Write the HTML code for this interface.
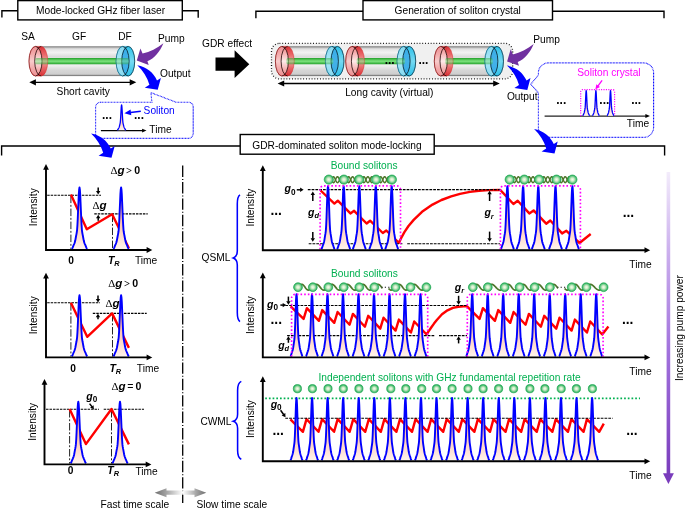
<!DOCTYPE html>
<html lang="en"><head><meta charset="utf-8"><title>GDR-dominated soliton mode-locking</title>
<style>html,body{margin:0;padding:0;background:#fff}svg{display:block}</style></head>
<body>
<svg width="685" height="508" viewBox="0 0 685 508" font-family="'Liberation Sans', Arial, sans-serif" font-size="10.2" fill="#000">
<defs>
<linearGradient id="pg" x1="0" y1="0" x2="0" y2="1">
 <stop offset="0" stop-color="#ffa07a"/>
 <stop offset="0.55" stop-color="#ffc4aa"/>
 <stop offset="0.8" stop-color="#ffdccd"/>
 <stop offset="1" stop-color="#fff3ed"/>
</linearGradient>
<linearGradient id="tube" x1="0" y1="0" x2="0" y2="1">
 <stop offset="0" stop-color="#b9b9b9"/>
 <stop offset="0.10" stop-color="#e6e6e6"/>
 <stop offset="0.2" stop-color="#f2f2f2"/>
 <stop offset="0.34" stop-color="#dcdcdc"/>
 <stop offset="0.5" stop-color="#e8e8e8"/>
 <stop offset="0.66" stop-color="#eeeeee"/>
 <stop offset="0.82" stop-color="#d6d6d6"/>
 <stop offset="0.93" stop-color="#cfcfcf"/>
 <stop offset="1" stop-color="#a9a9a9"/>
</linearGradient>
<linearGradient id="rod" x1="0" y1="0" x2="0" y2="1">
 <stop offset="0" stop-color="#22a12a"/>
 <stop offset="0.5" stop-color="#7fe47f"/>
 <stop offset="1" stop-color="#22a12a"/>
</linearGradient>
<linearGradient id="redv" x1="0" y1="0" x2="0" y2="1">
 <stop offset="0" stop-color="#d9262b"/>
 <stop offset="0.28" stop-color="#ea5f61"/>
 <stop offset="0.5" stop-color="#f29a9a"/>
 <stop offset="0.72" stop-color="#ea5f61"/>
 <stop offset="1" stop-color="#d9262b"/>
</linearGradient>
<linearGradient id="redh" x1="0" y1="0" x2="1" y2="0">
 <stop offset="0" stop-color="#ef8d8d"/>
 <stop offset="0.5" stop-color="#fbdada"/>
 <stop offset="1" stop-color="#f4a6a6"/>
</linearGradient>
<linearGradient id="redlens" x1="0" y1="0" x2="0" y2="1">
 <stop offset="0" stop-color="#f29c9c"/>
 <stop offset="0.5" stop-color="#fff6f6"/>
 <stop offset="1" stop-color="#f29c9c"/>
</linearGradient>
<linearGradient id="bluv" x1="0" y1="0" x2="0" y2="1">
 <stop offset="0" stop-color="#22bde8"/>
 <stop offset="0.5" stop-color="#6fd8f2"/>
 <stop offset="1" stop-color="#22bde8"/>
</linearGradient>
<linearGradient id="bluf" x1="0" y1="0" x2="1" y2="0">
 <stop offset="0" stop-color="#35b4e8"/>
 <stop offset="1" stop-color="#23a3e0"/>
</linearGradient>
<radialGradient id="ball" cx="0.5" cy="0.5" r="0.5">
 <stop offset="0" stop-color="#f4faef"/>
 <stop offset="0.35" stop-color="#d3edc9"/>
 <stop offset="0.8" stop-color="#55c27a"/>
 <stop offset="1" stop-color="#21ad55"/>
</radialGradient>
<linearGradient id="pump" gradientUnits="userSpaceOnUse" x1="0" y1="172" x2="0" y2="476">
 <stop offset="0" stop-color="#f3ecfb"/>
 <stop offset="0.25" stop-color="#cdb2ee"/>
 <stop offset="0.6" stop-color="#a070dc"/>
 <stop offset="1" stop-color="#7a3cbc"/>
</linearGradient>
<linearGradient id="gl" gradientUnits="userSpaceOnUse" x1="154.7" y1="0" x2="182.7" y2="0">
 <stop offset="0" stop-color="#6e6e6e"/>
 <stop offset="0.45" stop-color="#a8a8a8"/>
 <stop offset="1" stop-color="#ffffff"/>
</linearGradient>
<linearGradient id="gr" gradientUnits="userSpaceOnUse" x1="182.7" y1="0" x2="206.3" y2="0">
 <stop offset="0" stop-color="#ffffff"/>
 <stop offset="0.55" stop-color="#a8a8a8"/>
 <stop offset="1" stop-color="#6e6e6e"/>
</linearGradient>
</defs>
<rect width="685" height="508" fill="#fff"/>
<g fill="none" stroke="#000" stroke-width="1.4">
<path d="M1.9 17.6 V10.8 H17.8 M182.3 10.8 H198.2 V17.8"/>
<rect x="17.8" y="0.6" width="164.5" height="19.3" fill="#fff"/>
<path d="M255.9 18.2 V11.3 H363 M552.5 11.3 H664 V18.2"/>
<rect x="363" y="0.6" width="189.5" height="19.3" fill="#fff"/>
<path d="M1.6 155.4 V146 H240.2 M434.2 146 H664.6 V155.6"/>
<rect x="240.2" y="134.5" width="194" height="19.7" fill="#fff"/>
</g>
<text x="36" y="14.4">Mode-locked GHz fiber laser</text>
<text x="394.6" y="13.9">Generation of soliton crystal</text>
<text x="252.3" y="148.8">GDR-dominated soliton mode-locking</text>
<path d="M41.2 46.8 L122.6 46.8 A6.5 14.4 0 0 1 122.6 75.6 L41.2 75.6 Z" fill="url(#tube)" stroke="#555" stroke-width="0.7"/>
<rect x="35.2" y="58.05" width="93.6" height="6.3" rx="1.6" fill="url(#rod)"/>
<path d="M35.5 46.4 A6.5 14.8 0 0 0 35.5 76 L41.2 76 A6.5 14.8 0 0 0 41.2 46.4 Z" fill="url(#redv)" fill-opacity="0.93" stroke="#d92b2b" stroke-width="0.5"/>
<path d="M38.35 47.9 A6.5 14.8 0 1 0 38.35 74.5 A6.5 14.8 0 0 1 38.35 47.9 Z" fill="#fff" fill-opacity="0.45"/>
<path d="M38.35 47.9 A6.5 14.8 0 0 1 38.35 74.5 A6.5 14.8 0 0 1 38.35 47.9 Z" fill="url(#redlens)" fill-opacity="0.85"/>
<path d="M35.5 46.4 A6.5 14.8 0 0 0 35.5 76" fill="none" stroke="#7a1010" stroke-width="0.7"/>
<path d="M35.5 46.4 A6.5 14.8 0 0 1 35.5 76" fill="none" stroke="#140000" stroke-width="0.75"/>
<path d="M41.2 46.4 A6.5 14.8 0 0 0 41.2 76" fill="none" stroke="#140000" stroke-width="0.75"/>
<path d="M122.6 46.4 A6.5 14.8 0 0 0 122.6 76 L128.2 76 A6.5 14.8 0 0 0 128.2 46.4 Z" fill="url(#bluv)" fill-opacity="0.95" stroke="#18a7d0" stroke-width="0.5"/>
<path d="M125.4 47.84 A6.5 14.8 0 1 0 125.4 74.56 A6.5 14.8 0 0 1 125.4 47.84 Z" fill="#fff" fill-opacity="0.42"/>
<path d="M125.4 47.84 A6.5 14.8 0 0 1 125.4 74.56 A6.5 14.8 0 0 1 125.4 47.84 Z" fill="#38a8e6" fill-opacity="0.8"/>
<path d="M122.6 46.4 A6.5 14.8 0 0 0 122.6 76" fill="none" stroke="#0d5c78" stroke-width="0.7"/>
<path d="M122.6 46.4 A6.5 14.8 0 0 1 122.6 76" fill="none" stroke="#04141c" stroke-width="0.75"/>
<path d="M128.2 46.4 A6.5 14.8 0 0 0 128.2 76" fill="none" stroke="#04141c" stroke-width="0.75"/>
<path d="M128.2 46.4 A6.5 14.8 0 0 1 128.2 76" fill="none" stroke="#0a2a38" stroke-width="0.7"/>
<rect x="35.2" y="58.05" width="12.5" height="6.3" rx="1.6" fill="url(#rod)" opacity="0.5"/>
<rect x="116.1" y="58.05" width="12.7" height="6.3" rx="1.6" fill="url(#rod)" opacity="0.45"/>
<text x="21.2" y="40">SA</text>
<text x="72" y="40">GF</text>
<text x="118.2" y="40">DF</text>
<path d="M35 82.3 H130.5" stroke="#000" stroke-width="1.3"/>
<path d="M29.3 82.3 l6.6 -3.1 v6.2 Z M136.3 82.3 l-6.6 -3.1 v6.2 Z" fill="#000"/>
<text x="56.6" y="94.7">Short cavity</text>
<path d="M163.4 43.3 C157 48.5 150 51.8 142.6 53.6 L140.4 48.4 L136.8 60.6 L148.7 64.9 L147.4 61.3 C154.5 58.6 160 51.5 163.4 43.3 Z" fill="#7030A0"/>
<path d="M137.3 65.3 C146.5 67.2 153.5 72.5 157 80.4 L160.9 77.9 L157.7 89.7 L144.8 87.7 L149.4 84.7 C147.2 77.5 143 70.6 137.3 65.3 Z" fill="#0000FF"/>
<text x="158" y="41.6">Pump</text>
<text x="160" y="76.5">Output</text>
<text x="202" y="47.2">GDR effect</text>
<path d="M215.5 57.6 H234.6 V50.2 L249.3 64.2 L234.6 78 V70.8 H215.5 Z" fill="#000"/>
<path d="M100.6 102.2 H151.9 L150.9 92.6 L176 102.2 H188.6 A4.6 4.6 0 0 1 193.2 106.8 V133.4 A5 5 0 0 1 188.2 138.4 H100.6 A5 5 0 0 1 95.6 133.4 V107.2 A5 5 0 0 1 100.6 102.2 Z" fill="#fff" stroke="#0000FF" stroke-width="1.1" stroke-dasharray="0.8 0.7"/>
<path d="M100.9 130.6 H143" stroke="#000" stroke-width="1.2"/>
<path d="M146.5 130.6 l-4.4 -1.9 v3.8 Z" fill="#000"/>
<path d="M117.4 130.2 L117.61 130.02 L117.83 129.72 L118.04 129.31 L118.25 128.89 L118.47 128.52 L118.68 128.16 L118.89 127.77 L119.11 127.29 L119.32 126.65 L119.53 125.78 L119.75 124.87 L119.96 124.06 L120.17 123.12 L120.3 122.31 L120.48 120.28 L120.67 117.44 L120.86 114.08 L121.04 110.89 L121.23 107.67 L121.41 105.71 L121.6 104.92 L121.79 105.71 L121.97 107.67 L122.16 110.89 L122.34 114.08 L122.53 117.44 L122.72 120.28 L122.9 122.31 L123.03 123.12 L123.24 124.06 L123.45 124.87 L123.67 125.78 L123.88 126.65 L124.09 127.29 L124.31 127.77 L124.52 128.16 L124.73 128.52 L124.95 128.89 L125.16 129.31 L125.37 129.72 L125.59 130.02 L125.8 130.2 Z" fill="url(#pg)" stroke="none"/>
<path d="M117.4 130.2 L117.61 130.02 L117.83 129.72 L118.04 129.31 L118.25 128.89 L118.47 128.52 L118.68 128.16 L118.89 127.77 L119.11 127.29 L119.32 126.65 L119.53 125.78 L119.75 124.87 L119.96 124.06 L120.17 123.12 L120.3 122.31 L120.48 120.28 L120.67 117.44 L120.86 114.08 L121.04 110.89 L121.23 107.67 L121.41 105.71 L121.6 104.92 L121.79 105.71 L121.97 107.67 L122.16 110.89 L122.34 114.08 L122.53 117.44 L122.72 120.28 L122.9 122.31 L123.03 123.12 L123.24 124.06 L123.45 124.87 L123.67 125.78 L123.88 126.65 L124.09 127.29 L124.31 127.77 L124.52 128.16 L124.73 128.52 L124.95 128.89 L125.16 129.31 L125.37 129.72 L125.59 130.02 L125.8 130.2" fill="none" stroke="#0000FF" stroke-width="1.3" stroke-linejoin="round"/>
<text x="149.3" y="133.4">Time</text>
<text x="143.6" y="113.7" fill="#0000FF">Soliton</text>
<path d="M140.8 111.2 L130.45 112.53" stroke="#0000FF" stroke-width="1.6" fill="none"/>
<path d="M124.4 113.3 L130.58 109.59 L131.31 115.34 Z" fill="#0000FF"/>
<text x="102.05" y="119.41" font-size="11.9" font-weight="bold">...</text>
<text x="134.05" y="119.41" font-size="11.9" font-weight="bold">...</text>
<path d="M137.3 65.3 C146.5 67.2 153.5 72.5 157 80.4 L160.9 77.9 L157.7 89.7 L144.8 87.7 L149.4 84.7 C147.2 77.5 143 70.6 137.3 65.3 Z" fill="#0000FF" transform="translate(-46.2 68.1)"/>
<rect x="271.5" y="43.3" width="241.2" height="35.6" rx="8" ry="8" fill="#f0f0f0" stroke="#000" stroke-width="1.3" stroke-dasharray="0.85 1.95"/>
<path d="M287.6 46.8 L331.9 46.8 A6.5 14.4 0 0 1 331.9 75.6 L287.6 75.6 Z" fill="url(#tube)" stroke="#555" stroke-width="0.7"/>
<rect x="286.4" y="58.05" width="46.9" height="6.3" rx="1.6" fill="url(#rod)"/>
<path d="M281.9 46.4 A6.5 14.8 0 0 0 281.9 76 L287.6 76 A6.5 14.8 0 0 0 287.6 46.4 Z" fill="url(#redv)" fill-opacity="0.93" stroke="#d92b2b" stroke-width="0.5"/>
<path d="M284.75 47.9 A6.5 14.8 0 1 0 284.75 74.5 A6.5 14.8 0 0 1 284.75 47.9 Z" fill="#fff" fill-opacity="0.45"/>
<path d="M284.75 47.9 A6.5 14.8 0 0 1 284.75 74.5 A6.5 14.8 0 0 1 284.75 47.9 Z" fill="url(#redlens)" fill-opacity="0.85"/>
<path d="M281.9 46.4 A6.5 14.8 0 0 0 281.9 76" fill="none" stroke="#7a1010" stroke-width="0.7"/>
<path d="M281.9 46.4 A6.5 14.8 0 0 1 281.9 76" fill="none" stroke="#140000" stroke-width="0.75"/>
<path d="M287.6 46.4 A6.5 14.8 0 0 0 287.6 76" fill="none" stroke="#140000" stroke-width="0.75"/>
<path d="M331.9 46.4 A6.5 14.8 0 0 0 331.9 76 L337.5 76 A6.5 14.8 0 0 0 337.5 46.4 Z" fill="url(#bluv)" fill-opacity="0.95" stroke="#18a7d0" stroke-width="0.5"/>
<path d="M334.7 47.84 A6.5 14.8 0 1 0 334.7 74.56 A6.5 14.8 0 0 1 334.7 47.84 Z" fill="#fff" fill-opacity="0.42"/>
<path d="M334.7 47.84 A6.5 14.8 0 0 1 334.7 74.56 A6.5 14.8 0 0 1 334.7 47.84 Z" fill="#38a8e6" fill-opacity="0.8"/>
<path d="M331.9 46.4 A6.5 14.8 0 0 0 331.9 76" fill="none" stroke="#0d5c78" stroke-width="0.7"/>
<path d="M331.9 46.4 A6.5 14.8 0 0 1 331.9 76" fill="none" stroke="#04141c" stroke-width="0.75"/>
<path d="M337.5 46.4 A6.5 14.8 0 0 0 337.5 76" fill="none" stroke="#04141c" stroke-width="0.75"/>
<path d="M337.5 46.4 A6.5 14.8 0 0 1 337.5 76" fill="none" stroke="#0a2a38" stroke-width="0.7"/>
<rect x="286.4" y="58.05" width="7.7" height="6.3" rx="1.6" fill="url(#rod)" opacity="0.5"/>
<rect x="325.4" y="58.05" width="7.9" height="6.3" rx="1.6" fill="url(#rod)" opacity="0.45"/>
<path d="M357.9 46.8 L403.6 46.8 A6.5 14.4 0 0 1 403.6 75.6 L357.9 75.6 Z" fill="url(#tube)" stroke="#555" stroke-width="0.7"/>
<rect x="356.7" y="58.05" width="48.3" height="6.3" rx="1.6" fill="url(#rod)"/>
<path d="M352.2 46.4 A6.5 14.8 0 0 0 352.2 76 L357.9 76 A6.5 14.8 0 0 0 357.9 46.4 Z" fill="url(#redv)" fill-opacity="0.93" stroke="#d92b2b" stroke-width="0.5"/>
<path d="M355.05 47.9 A6.5 14.8 0 1 0 355.05 74.5 A6.5 14.8 0 0 1 355.05 47.9 Z" fill="#fff" fill-opacity="0.45"/>
<path d="M355.05 47.9 A6.5 14.8 0 0 1 355.05 74.5 A6.5 14.8 0 0 1 355.05 47.9 Z" fill="url(#redlens)" fill-opacity="0.85"/>
<path d="M352.2 46.4 A6.5 14.8 0 0 0 352.2 76" fill="none" stroke="#7a1010" stroke-width="0.7"/>
<path d="M352.2 46.4 A6.5 14.8 0 0 1 352.2 76" fill="none" stroke="#140000" stroke-width="0.75"/>
<path d="M357.9 46.4 A6.5 14.8 0 0 0 357.9 76" fill="none" stroke="#140000" stroke-width="0.75"/>
<path d="M403.6 46.4 A6.5 14.8 0 0 0 403.6 76 L409.2 76 A6.5 14.8 0 0 0 409.2 46.4 Z" fill="url(#bluv)" fill-opacity="0.95" stroke="#18a7d0" stroke-width="0.5"/>
<path d="M406.4 47.84 A6.5 14.8 0 1 0 406.4 74.56 A6.5 14.8 0 0 1 406.4 47.84 Z" fill="#fff" fill-opacity="0.42"/>
<path d="M406.4 47.84 A6.5 14.8 0 0 1 406.4 74.56 A6.5 14.8 0 0 1 406.4 47.84 Z" fill="#38a8e6" fill-opacity="0.8"/>
<path d="M403.6 46.4 A6.5 14.8 0 0 0 403.6 76" fill="none" stroke="#0d5c78" stroke-width="0.7"/>
<path d="M403.6 46.4 A6.5 14.8 0 0 1 403.6 76" fill="none" stroke="#04141c" stroke-width="0.75"/>
<path d="M409.2 46.4 A6.5 14.8 0 0 0 409.2 76" fill="none" stroke="#04141c" stroke-width="0.75"/>
<path d="M409.2 46.4 A6.5 14.8 0 0 1 409.2 76" fill="none" stroke="#0a2a38" stroke-width="0.7"/>
<rect x="356.7" y="58.05" width="7.7" height="6.3" rx="1.6" fill="url(#rod)" opacity="0.5"/>
<rect x="397.1" y="58.05" width="7.9" height="6.3" rx="1.6" fill="url(#rod)" opacity="0.45"/>
<path d="M446.5 46.8 L491.4 46.8 A6.5 14.4 0 0 1 491.4 75.6 L446.5 75.6 Z" fill="url(#tube)" stroke="#555" stroke-width="0.7"/>
<rect x="445.3" y="58.05" width="47.5" height="6.3" rx="1.6" fill="url(#rod)"/>
<path d="M440.8 46.4 A6.5 14.8 0 0 0 440.8 76 L446.5 76 A6.5 14.8 0 0 0 446.5 46.4 Z" fill="url(#redv)" fill-opacity="0.93" stroke="#d92b2b" stroke-width="0.5"/>
<path d="M443.65 47.9 A6.5 14.8 0 1 0 443.65 74.5 A6.5 14.8 0 0 1 443.65 47.9 Z" fill="#fff" fill-opacity="0.45"/>
<path d="M443.65 47.9 A6.5 14.8 0 0 1 443.65 74.5 A6.5 14.8 0 0 1 443.65 47.9 Z" fill="url(#redlens)" fill-opacity="0.85"/>
<path d="M440.8 46.4 A6.5 14.8 0 0 0 440.8 76" fill="none" stroke="#7a1010" stroke-width="0.7"/>
<path d="M440.8 46.4 A6.5 14.8 0 0 1 440.8 76" fill="none" stroke="#140000" stroke-width="0.75"/>
<path d="M446.5 46.4 A6.5 14.8 0 0 0 446.5 76" fill="none" stroke="#140000" stroke-width="0.75"/>
<path d="M491.4 46.4 A6.5 14.8 0 0 0 491.4 76 L497 76 A6.5 14.8 0 0 0 497 46.4 Z" fill="url(#bluv)" fill-opacity="0.95" stroke="#18a7d0" stroke-width="0.5"/>
<path d="M494.2 47.84 A6.5 14.8 0 1 0 494.2 74.56 A6.5 14.8 0 0 1 494.2 47.84 Z" fill="#fff" fill-opacity="0.42"/>
<path d="M494.2 47.84 A6.5 14.8 0 0 1 494.2 74.56 A6.5 14.8 0 0 1 494.2 47.84 Z" fill="#38a8e6" fill-opacity="0.8"/>
<path d="M491.4 46.4 A6.5 14.8 0 0 0 491.4 76" fill="none" stroke="#0d5c78" stroke-width="0.7"/>
<path d="M491.4 46.4 A6.5 14.8 0 0 1 491.4 76" fill="none" stroke="#04141c" stroke-width="0.75"/>
<path d="M497 46.4 A6.5 14.8 0 0 0 497 76" fill="none" stroke="#04141c" stroke-width="0.75"/>
<path d="M497 46.4 A6.5 14.8 0 0 1 497 76" fill="none" stroke="#0a2a38" stroke-width="0.7"/>
<rect x="445.3" y="58.05" width="7.7" height="6.3" rx="1.6" fill="url(#rod)" opacity="0.5"/>
<rect x="484.9" y="58.05" width="7.9" height="6.3" rx="1.6" fill="url(#rod)" opacity="0.45"/>
<text x="384.63" y="64.22" font-size="12" font-weight="bold">...</text>
<text x="418.43" y="64.22" font-size="12" font-weight="bold">...</text>
<path d="M283 83.5 H494" stroke="#000" stroke-width="1.3"/>
<path d="M277.6 83.5 l6.6 -3.1 v6.2 Z M499.8 83.5 l-6.6 -3.1 v6.2 Z" fill="#000"/>
<text x="345.2" y="95.6">Long cavity (virtual)</text>
<path d="M163.4 43.3 C157 48.5 150 51.8 142.6 53.6 L140.4 48.4 L136.8 60.6 L148.7 64.9 L147.4 61.3 C154.5 58.6 160 51.5 163.4 43.3 Z" fill="#7030A0" transform="translate(370.3 0.8)"/>
<path d="M137.3 65.3 C146.5 67.2 153.5 72.5 157 80.4 L160.9 77.9 L157.7 89.7 L144.8 87.7 L149.4 84.7 C147.2 77.5 143 70.6 137.3 65.3 Z" fill="#0000FF" transform="translate(369.6 0.2)"/>
<text x="533.2" y="42.7">Pump</text>
<text x="506.9" y="99.7">Output</text>
<path d="M548.4 62.9 H643.6 A10 10 0 0 1 653.6 72.9 V127.4 A10 10 0 0 1 643.6 137.4 H548.4 A10 10 0 0 1 538.4 127.4 V92.7 L530.8 84.3 L538.4 75 V72.9 A10 10 0 0 1 548.4 62.9 Z" fill="#fff" stroke="#0000FF" stroke-width="1.1" stroke-dasharray="0.8 0.7"/>
<path d="M544.6 116.1 H646" stroke="#222" stroke-width="1.25"/>
<path d="M650 116.1 l-4.6 -2 v4 Z" fill="#000"/>
<path d="M582.7 115.8 L582.88 115.62 L583.06 115.32 L583.23 114.91 L583.41 114.49 L583.59 114.12 L583.77 113.76 L583.94 113.37 L584.12 112.89 L584.3 112.25 L584.48 111.38 L584.65 110.47 L584.83 109.66 L585.01 108.72 L585.12 107.91 L585.27 105.88 L585.43 103.04 L585.58 99.68 L585.74 96.49 L585.89 93.27 L586.05 91.31 L586.2 90.52 L586.36 91.31 L586.51 93.27 L586.67 96.49 L586.82 99.68 L586.98 103.04 L587.13 105.88 L587.29 107.91 L587.39 108.72 L587.57 109.66 L587.75 110.47 L587.92 111.38 L588.1 112.25 L588.28 112.89 L588.46 113.37 L588.63 113.76 L588.81 114.12 L588.99 114.49 L589.17 114.91 L589.34 115.32 L589.52 115.62 L589.7 115.8 Z" fill="url(#pg)" stroke="none"/>
<path d="M582.7 115.8 L582.88 115.62 L583.06 115.32 L583.23 114.91 L583.41 114.49 L583.59 114.12 L583.77 113.76 L583.94 113.37 L584.12 112.89 L584.3 112.25 L584.48 111.38 L584.65 110.47 L584.83 109.66 L585.01 108.72 L585.12 107.91 L585.27 105.88 L585.43 103.04 L585.58 99.68 L585.74 96.49 L585.89 93.27 L586.05 91.31 L586.2 90.52 L586.36 91.31 L586.51 93.27 L586.67 96.49 L586.82 99.68 L586.98 103.04 L587.13 105.88 L587.29 107.91 L587.39 108.72 L587.57 109.66 L587.75 110.47 L587.92 111.38 L588.1 112.25 L588.28 112.89 L588.46 113.37 L588.63 113.76 L588.81 114.12 L588.99 114.49 L589.17 114.91 L589.34 115.32 L589.52 115.62 L589.7 115.8" fill="none" stroke="#0000FF" stroke-width="1.3" stroke-linejoin="round"/>
<path d="M592.4 115.8 L592.58 115.62 L592.76 115.32 L592.93 114.91 L593.11 114.49 L593.29 114.12 L593.47 113.76 L593.64 113.37 L593.82 112.89 L594 112.25 L594.18 111.38 L594.35 110.47 L594.53 109.66 L594.71 108.72 L594.81 107.91 L594.97 105.88 L595.12 103.04 L595.28 99.68 L595.43 96.49 L595.59 93.27 L595.75 91.31 L595.9 90.52 L596.05 91.31 L596.21 93.27 L596.37 96.49 L596.52 99.68 L596.67 103.04 L596.83 105.88 L596.99 107.91 L597.09 108.72 L597.27 109.66 L597.45 110.47 L597.62 111.38 L597.8 112.25 L597.98 112.89 L598.16 113.37 L598.33 113.76 L598.51 114.12 L598.69 114.49 L598.87 114.91 L599.04 115.32 L599.22 115.62 L599.4 115.8 Z" fill="url(#pg)" stroke="none"/>
<path d="M592.4 115.8 L592.58 115.62 L592.76 115.32 L592.93 114.91 L593.11 114.49 L593.29 114.12 L593.47 113.76 L593.64 113.37 L593.82 112.89 L594 112.25 L594.18 111.38 L594.35 110.47 L594.53 109.66 L594.71 108.72 L594.81 107.91 L594.97 105.88 L595.12 103.04 L595.28 99.68 L595.43 96.49 L595.59 93.27 L595.75 91.31 L595.9 90.52 L596.05 91.31 L596.21 93.27 L596.37 96.49 L596.52 99.68 L596.67 103.04 L596.83 105.88 L596.99 107.91 L597.09 108.72 L597.27 109.66 L597.45 110.47 L597.62 111.38 L597.8 112.25 L597.98 112.89 L598.16 113.37 L598.33 113.76 L598.51 114.12 L598.69 114.49 L598.87 114.91 L599.04 115.32 L599.22 115.62 L599.4 115.8" fill="none" stroke="#0000FF" stroke-width="1.3" stroke-linejoin="round"/>
<path d="M607 115.8 L607.18 115.62 L607.36 115.32 L607.53 114.91 L607.71 114.49 L607.89 114.12 L608.07 113.76 L608.24 113.37 L608.42 112.89 L608.6 112.25 L608.78 111.38 L608.95 110.47 L609.13 109.66 L609.31 108.72 L609.41 107.91 L609.57 105.88 L609.73 103.04 L609.88 99.68 L610.03 96.49 L610.19 93.27 L610.35 91.31 L610.5 90.52 L610.65 91.31 L610.81 93.27 L610.97 96.49 L611.12 99.68 L611.27 103.04 L611.43 105.88 L611.59 107.91 L611.69 108.72 L611.87 109.66 L612.05 110.47 L612.22 111.38 L612.4 112.25 L612.58 112.89 L612.76 113.37 L612.93 113.76 L613.11 114.12 L613.29 114.49 L613.47 114.91 L613.64 115.32 L613.82 115.62 L614 115.8 Z" fill="url(#pg)" stroke="none"/>
<path d="M607 115.8 L607.18 115.62 L607.36 115.32 L607.53 114.91 L607.71 114.49 L607.89 114.12 L608.07 113.76 L608.24 113.37 L608.42 112.89 L608.6 112.25 L608.78 111.38 L608.95 110.47 L609.13 109.66 L609.31 108.72 L609.41 107.91 L609.57 105.88 L609.73 103.04 L609.88 99.68 L610.03 96.49 L610.19 93.27 L610.35 91.31 L610.5 90.52 L610.65 91.31 L610.81 93.27 L610.97 96.49 L611.12 99.68 L611.27 103.04 L611.43 105.88 L611.59 107.91 L611.69 108.72 L611.87 109.66 L612.05 110.47 L612.22 111.38 L612.4 112.25 L612.58 112.89 L612.76 113.37 L612.93 113.76 L613.11 114.12 L613.29 114.49 L613.47 114.91 L613.64 115.32 L613.82 115.62 L614 115.8" fill="none" stroke="#0000FF" stroke-width="1.3" stroke-linejoin="round"/>
<path d="M580.7 116 V91.6 A2 2 0 0 1 582.7 89.6 H612.6 A2 2 0 0 1 614.6 91.6 V116" fill="none" stroke="#FF00FF" stroke-width="1.2" stroke-dasharray="1.1 1.3"/>
<text x="577.2" y="75.7" fill="#FF00FF">Soliton crystal</text>
<path d="M602.1 80.3 L597.86 86.04" stroke="#FF00FF" stroke-width="1.3" fill="none"/>
<path d="M595.3 89.5 L596.38 84.33 L599.92 86.95 Z" fill="#FF00FF"/>
<text x="556.23" y="103.62" font-size="12" font-weight="bold">...</text>
<text x="599.33" y="103.62" font-size="12" font-weight="bold">...</text>
<text x="631.13" y="103.62" font-size="12" font-weight="bold">...</text>
<text x="626.8" y="126.8">Time</text>
<path d="M137.3 65.3 C146.5 67.2 153.5 72.5 157 80.4 L160.9 77.9 L157.7 89.7 L144.8 87.7 L149.4 84.7 C147.2 77.5 143 70.6 137.3 65.3 Z" fill="#0000FF" transform="translate(396.8 63.7)"/>
<path d="M47.2 195.3 L101 195.3" stroke="#000" stroke-width="1.1" stroke-dasharray="2.5 0.97" fill="none"/>
<path d="M94.3 213.9 L147.7 213.9" stroke="#000" stroke-width="1.1" stroke-dasharray="2.5 0.97" fill="none"/>
<path d="M70.9 195.6 L70.9 249.2" stroke="#1a1a1a" stroke-width="0.95" stroke-dasharray="7.5 1.8 1.9 1.8" fill="none"/>
<path d="M112.5 214.6 L112.5 249.2" stroke="#1a1a1a" stroke-width="0.95" stroke-dasharray="7.5 1.8 1.9 1.8" fill="none"/>
<path d="M70.9 194.6 L86.8 229.3 L112.1 214.3 L128.9 248.4" fill="none" stroke="#FF0000" stroke-width="2.4" stroke-linejoin="round" stroke-linecap="butt"/>
<path d="M71.75 249 L72.14 248.56 L72.54 247.84 L72.93 246.83 L73.32 245.8 L73.72 244.9 L74.11 244.03 L74.5 243.08 L74.9 241.92 L75.29 240.35 L75.68 238.25 L76.08 236.03 L76.47 234.06 L76.86 231.76 L77.1 229.8 L77.44 224.86 L77.78 217.93 L78.13 209.77 L78.47 201.98 L78.81 194.16 L79.16 189.39 L79.5 187.44 L79.84 189.39 L80.19 194.16 L80.53 201.98 L80.87 209.77 L81.22 217.93 L81.56 224.86 L81.9 229.8 L82.14 231.76 L82.53 234.06 L82.92 236.03 L83.32 238.25 L83.71 240.35 L84.1 241.92 L84.5 243.08 L84.89 244.03 L85.28 244.9 L85.68 245.8 L86.07 246.83 L86.46 247.84 L86.86 248.56 L87.25 249 Z" fill="url(#pg)" stroke="none"/>
<path d="M71.75 249 L72.14 248.56 L72.54 247.84 L72.93 246.83 L73.32 245.8 L73.72 244.9 L74.11 244.03 L74.5 243.08 L74.9 241.92 L75.29 240.35 L75.68 238.25 L76.08 236.03 L76.47 234.06 L76.86 231.76 L77.1 229.8 L77.44 224.86 L77.78 217.93 L78.13 209.77 L78.47 201.98 L78.81 194.16 L79.16 189.39 L79.5 187.44 L79.84 189.39 L80.19 194.16 L80.53 201.98 L80.87 209.77 L81.22 217.93 L81.56 224.86 L81.9 229.8 L82.14 231.76 L82.53 234.06 L82.92 236.03 L83.32 238.25 L83.71 240.35 L84.1 241.92 L84.5 243.08 L84.89 244.03 L85.28 244.9 L85.68 245.8 L86.07 246.83 L86.46 247.84 L86.86 248.56 L87.25 249" fill="none" stroke="#0000FF" stroke-width="1.9" stroke-linejoin="round"/>
<path d="M113.35 249 L113.74 248.56 L114.14 247.84 L114.53 246.83 L114.92 245.8 L115.32 244.9 L115.71 244.03 L116.1 243.08 L116.5 241.92 L116.89 240.35 L117.28 238.25 L117.68 236.03 L118.07 234.06 L118.46 231.76 L118.7 229.8 L119.04 224.86 L119.38 217.93 L119.73 209.77 L120.07 201.98 L120.41 194.16 L120.76 189.39 L121.1 187.44 L121.44 189.39 L121.79 194.16 L122.13 201.98 L122.47 209.77 L122.82 217.93 L123.16 224.86 L123.5 229.8 L123.73 231.76 L124.13 234.06 L124.52 236.03 L124.92 238.25 L125.31 240.35 L125.7 241.92 L126.1 243.08 L126.49 244.03 L126.88 244.9 L127.28 245.8 L127.67 246.83 L128.06 247.84 L128.46 248.56 L128.85 249 Z" fill="url(#pg)" stroke="none"/>
<path d="M113.35 249 L113.74 248.56 L114.14 247.84 L114.53 246.83 L114.92 245.8 L115.32 244.9 L115.71 244.03 L116.1 243.08 L116.5 241.92 L116.89 240.35 L117.28 238.25 L117.68 236.03 L118.07 234.06 L118.46 231.76 L118.7 229.8 L119.04 224.86 L119.38 217.93 L119.73 209.77 L120.07 201.98 L120.41 194.16 L120.76 189.39 L121.1 187.44 L121.44 189.39 L121.79 194.16 L122.13 201.98 L122.47 209.77 L122.82 217.93 L123.16 224.86 L123.5 229.8 L123.73 231.76 L124.13 234.06 L124.52 236.03 L124.92 238.25 L125.31 240.35 L125.7 241.92 L126.1 243.08 L126.49 244.03 L126.88 244.9 L127.28 245.8 L127.67 246.83 L128.06 247.84 L128.46 248.56 L128.85 249" fill="none" stroke="#0000FF" stroke-width="1.9" stroke-linejoin="round"/>
<path d="M46 168.1 L46 250 L148.3 250" fill="none" stroke="#000" stroke-width="1.9" stroke-linejoin="miter"/>
<path d="M46 164.1 l-2.9 5.7 h5.8 Z" fill="#000"/>
<path d="M152.3 250 l-5.7 -2.9 v5.8 Z" fill="#000"/>
<text x="37.4" y="226.15" transform="rotate(-90 37.4 226.15)">Intensity</text>
<path d="M98.2 187.5 L98.2 191.4" stroke="#000" stroke-width="1.5" fill="none"/>
<path d="M98.2 194.4 L96 190.9 L100.4 190.9 Z" fill="#000"/>
<path d="M98.2 220.8 L98.2 217.8" stroke="#000" stroke-width="1.5" fill="none"/>
<path d="M98.2 214.8 L100.4 218.3 L96 218.3 Z" fill="#000"/>
<text x="92.4" y="209.2"><tspan font-family="'Liberation Serif', serif" font-size="10.9">Δ</tspan><tspan font-weight="bold" font-style="italic" font-size="11.6">g</tspan></text>
<text x="110.4" y="174"><tspan font-family="'Liberation Serif', serif" font-size="10.9">Δ</tspan><tspan font-weight="bold" font-style="italic" font-size="11.6">g</tspan><tspan font-family="'Liberation Serif', serif" font-weight="bold" font-size="10.6" dx="1.6">&gt;</tspan><tspan font-weight="bold" font-size="10.6" dx="2.2">0</tspan></text>
<text x="68.3" y="263.5" font-weight="bold">0</text>
<text x="107.9" y="263.5"><tspan font-weight="bold" font-style="italic" font-size="10.5">T</tspan><tspan font-weight="bold" font-style="italic" font-size="7.4" dy="2.3">R</tspan></text>
<text x="134.9" y="263.6">Time</text>
<path d="M47.2 302.7 L100 302.7" stroke="#000" stroke-width="1.1" stroke-dasharray="2.5 0.97" fill="none"/>
<path d="M92.8 313.4 L146.7 313.4" stroke="#000" stroke-width="1.1" stroke-dasharray="2.5 0.97" fill="none"/>
<path d="M70.9 303.2 L70.9 356.6" stroke="#1a1a1a" stroke-width="0.95" stroke-dasharray="7.5 1.8 1.9 1.8" fill="none"/>
<path d="M112.5 314 L112.5 356.6" stroke="#1a1a1a" stroke-width="0.95" stroke-dasharray="7.5 1.8 1.9 1.8" fill="none"/>
<path d="M70.9 302.7 L87.2 336.8 L112.1 313.4 L128.9 347.9" fill="none" stroke="#FF0000" stroke-width="2.4" stroke-linejoin="round" stroke-linecap="butt"/>
<path d="M71.75 356.4 L72.14 355.96 L72.54 355.25 L72.93 354.24 L73.32 353.22 L73.72 352.33 L74.11 351.46 L74.5 350.51 L74.9 349.37 L75.29 347.8 L75.68 345.72 L76.08 343.51 L76.47 341.56 L76.86 339.28 L77.1 337.33 L77.44 332.42 L77.78 325.53 L78.13 317.42 L78.47 309.69 L78.81 301.91 L79.16 297.18 L79.5 295.25 L79.84 297.18 L80.19 301.91 L80.53 309.69 L80.87 317.42 L81.22 325.53 L81.56 332.42 L81.9 337.33 L82.14 339.28 L82.53 341.56 L82.92 343.51 L83.32 345.72 L83.71 347.8 L84.1 349.37 L84.5 350.51 L84.89 351.46 L85.28 352.33 L85.68 353.22 L86.07 354.24 L86.46 355.25 L86.86 355.96 L87.25 356.4 Z" fill="url(#pg)" stroke="none"/>
<path d="M71.75 356.4 L72.14 355.96 L72.54 355.25 L72.93 354.24 L73.32 353.22 L73.72 352.33 L74.11 351.46 L74.5 350.51 L74.9 349.37 L75.29 347.8 L75.68 345.72 L76.08 343.51 L76.47 341.56 L76.86 339.28 L77.1 337.33 L77.44 332.42 L77.78 325.53 L78.13 317.42 L78.47 309.69 L78.81 301.91 L79.16 297.18 L79.5 295.25 L79.84 297.18 L80.19 301.91 L80.53 309.69 L80.87 317.42 L81.22 325.53 L81.56 332.42 L81.9 337.33 L82.14 339.28 L82.53 341.56 L82.92 343.51 L83.32 345.72 L83.71 347.8 L84.1 349.37 L84.5 350.51 L84.89 351.46 L85.28 352.33 L85.68 353.22 L86.07 354.24 L86.46 355.25 L86.86 355.96 L87.25 356.4" fill="none" stroke="#0000FF" stroke-width="1.9" stroke-linejoin="round"/>
<path d="M113.35 356.4 L113.74 355.96 L114.14 355.25 L114.53 354.24 L114.92 353.22 L115.32 352.33 L115.71 351.46 L116.1 350.51 L116.5 349.37 L116.89 347.8 L117.28 345.72 L117.68 343.51 L118.07 341.56 L118.46 339.28 L118.7 337.33 L119.04 332.42 L119.38 325.53 L119.73 317.42 L120.07 309.69 L120.41 301.91 L120.76 297.18 L121.1 295.25 L121.44 297.18 L121.79 301.91 L122.13 309.69 L122.47 317.42 L122.82 325.53 L123.16 332.42 L123.5 337.33 L123.73 339.28 L124.13 341.56 L124.52 343.51 L124.92 345.72 L125.31 347.8 L125.7 349.37 L126.1 350.51 L126.49 351.46 L126.88 352.33 L127.28 353.22 L127.67 354.24 L128.06 355.25 L128.46 355.96 L128.85 356.4 Z" fill="url(#pg)" stroke="none"/>
<path d="M113.35 356.4 L113.74 355.96 L114.14 355.25 L114.53 354.24 L114.92 353.22 L115.32 352.33 L115.71 351.46 L116.1 350.51 L116.5 349.37 L116.89 347.8 L117.28 345.72 L117.68 343.51 L118.07 341.56 L118.46 339.28 L118.7 337.33 L119.04 332.42 L119.38 325.53 L119.73 317.42 L120.07 309.69 L120.41 301.91 L120.76 297.18 L121.1 295.25 L121.44 297.18 L121.79 301.91 L122.13 309.69 L122.47 317.42 L122.82 325.53 L123.16 332.42 L123.5 337.33 L123.73 339.28 L124.13 341.56 L124.52 343.51 L124.92 345.72 L125.31 347.8 L125.7 349.37 L126.1 350.51 L126.49 351.46 L126.88 352.33 L127.28 353.22 L127.67 354.24 L128.06 355.25 L128.46 355.96 L128.85 356.4" fill="none" stroke="#0000FF" stroke-width="1.9" stroke-linejoin="round"/>
<path d="M46 276.8 L46 357.4 L148.3 357.4" fill="none" stroke="#000" stroke-width="1.9" stroke-linejoin="miter"/>
<path d="M46 272.8 l-2.9 5.7 h5.8 Z" fill="#000"/>
<path d="M152.3 357.4 l-5.7 -2.9 v5.8 Z" fill="#000"/>
<text x="37.4" y="334.2" transform="rotate(-90 37.4 334.2)">Intensity</text>
<path d="M98 295.4 L98 299.4" stroke="#000" stroke-width="1.5" fill="none"/>
<path d="M98 302.4 L95.8 298.9 L100.2 298.9 Z" fill="#000"/>
<path d="M98 319.2 L98 316.8" stroke="#000" stroke-width="1.5" fill="none"/>
<path d="M98 313.8 L100.2 317.3 L95.8 317.3 Z" fill="#000"/>
<text x="105.5" y="307"><tspan font-family="'Liberation Serif', serif" font-size="10.9">Δ</tspan><tspan font-weight="bold" font-style="italic" font-size="11.6">g</tspan></text>
<text x="108.2" y="286.8"><tspan font-family="'Liberation Serif', serif" font-size="10.9">Δ</tspan><tspan font-weight="bold" font-style="italic" font-size="11.6">g</tspan><tspan font-family="'Liberation Serif', serif" font-weight="bold" font-size="10.6" dx="1.6">&gt;</tspan><tspan font-weight="bold" font-size="10.6" dx="2.2">0</tspan></text>
<text x="70.2" y="371.5" font-weight="bold">0</text>
<text x="109.4" y="371.5"><tspan font-weight="bold" font-style="italic" font-size="10.5">T</tspan><tspan font-weight="bold" font-style="italic" font-size="7.4" dy="2.3">R</tspan></text>
<text x="136.8" y="371.5">Time</text>
<path d="M46 409.3 L99 409.3" stroke="#000" stroke-width="1.1" stroke-dasharray="2.5 0.97" fill="none"/>
<path d="M103.7 409.3 L144 409.3" stroke="#000" stroke-width="1.1" stroke-dasharray="2.5 0.97" fill="none"/>
<path d="M69.6 410 L69.6 463.6" stroke="#1a1a1a" stroke-width="0.95" stroke-dasharray="7.5 1.8 1.9 1.8" fill="none"/>
<path d="M111.5 410 L111.5 463.6" stroke="#1a1a1a" stroke-width="0.95" stroke-dasharray="7.5 1.8 1.9 1.8" fill="none"/>
<path d="M69.6 409 L85.9 444.1 L111.5 409 L128.9 444.4" fill="none" stroke="#FF0000" stroke-width="2.4" stroke-linejoin="round" stroke-linecap="butt"/>
<path d="M70.55 463.4 L70.94 462.95 L71.34 462.24 L71.73 461.23 L72.12 460.2 L72.52 459.3 L72.91 458.42 L73.3 457.47 L73.7 456.31 L74.09 454.73 L74.48 452.63 L74.88 450.41 L75.27 448.43 L75.66 446.14 L75.9 444.17 L76.24 439.22 L76.58 432.28 L76.93 424.1 L77.27 416.3 L77.61 408.47 L77.96 403.69 L78.3 401.75 L78.64 403.69 L78.99 408.47 L79.33 416.3 L79.67 424.1 L80.02 432.28 L80.36 439.22 L80.7 444.17 L80.94 446.14 L81.33 448.43 L81.72 450.41 L82.12 452.63 L82.51 454.73 L82.9 456.31 L83.3 457.47 L83.69 458.42 L84.08 459.3 L84.48 460.2 L84.87 461.23 L85.26 462.24 L85.66 462.95 L86.05 463.4 Z" fill="url(#pg)" stroke="none"/>
<path d="M70.55 463.4 L70.94 462.95 L71.34 462.24 L71.73 461.23 L72.12 460.2 L72.52 459.3 L72.91 458.42 L73.3 457.47 L73.7 456.31 L74.09 454.73 L74.48 452.63 L74.88 450.41 L75.27 448.43 L75.66 446.14 L75.9 444.17 L76.24 439.22 L76.58 432.28 L76.93 424.1 L77.27 416.3 L77.61 408.47 L77.96 403.69 L78.3 401.75 L78.64 403.69 L78.99 408.47 L79.33 416.3 L79.67 424.1 L80.02 432.28 L80.36 439.22 L80.7 444.17 L80.94 446.14 L81.33 448.43 L81.72 450.41 L82.12 452.63 L82.51 454.73 L82.9 456.31 L83.3 457.47 L83.69 458.42 L84.08 459.3 L84.48 460.2 L84.87 461.23 L85.26 462.24 L85.66 462.95 L86.05 463.4" fill="none" stroke="#0000FF" stroke-width="1.9" stroke-linejoin="round"/>
<path d="M112.25 463.4 L112.64 462.95 L113.04 462.24 L113.43 461.23 L113.82 460.2 L114.22 459.3 L114.61 458.42 L115 457.47 L115.4 456.31 L115.79 454.73 L116.18 452.63 L116.58 450.41 L116.97 448.43 L117.36 446.14 L117.6 444.17 L117.94 439.22 L118.28 432.28 L118.63 424.1 L118.97 416.3 L119.31 408.47 L119.66 403.69 L120 401.75 L120.34 403.69 L120.69 408.47 L121.03 416.3 L121.37 424.1 L121.72 432.28 L122.06 439.22 L122.4 444.17 L122.64 446.14 L123.03 448.43 L123.42 450.41 L123.82 452.63 L124.21 454.73 L124.6 456.31 L125 457.47 L125.39 458.42 L125.78 459.3 L126.18 460.2 L126.57 461.23 L126.96 462.24 L127.36 462.95 L127.75 463.4 Z" fill="url(#pg)" stroke="none"/>
<path d="M112.25 463.4 L112.64 462.95 L113.04 462.24 L113.43 461.23 L113.82 460.2 L114.22 459.3 L114.61 458.42 L115 457.47 L115.4 456.31 L115.79 454.73 L116.18 452.63 L116.58 450.41 L116.97 448.43 L117.36 446.14 L117.6 444.17 L117.94 439.22 L118.28 432.28 L118.63 424.1 L118.97 416.3 L119.31 408.47 L119.66 403.69 L120 401.75 L120.34 403.69 L120.69 408.47 L121.03 416.3 L121.37 424.1 L121.72 432.28 L122.06 439.22 L122.4 444.17 L122.64 446.14 L123.03 448.43 L123.42 450.41 L123.82 452.63 L124.21 454.73 L124.6 456.31 L125 457.47 L125.39 458.42 L125.78 459.3 L126.18 460.2 L126.57 461.23 L126.96 462.24 L127.36 462.95 L127.75 463.4" fill="none" stroke="#0000FF" stroke-width="1.9" stroke-linejoin="round"/>
<path d="M44.5 383 L44.5 464.4 L147.4 464.4" fill="none" stroke="#000" stroke-width="1.9" stroke-linejoin="miter"/>
<path d="M44.5 379 l-2.9 5.7 h5.8 Z" fill="#000"/>
<path d="M151.4 464.4 l-5.7 -2.9 v5.8 Z" fill="#000"/>
<text x="35.9" y="440.8" transform="rotate(-90 35.9 440.8)">Intensity</text>
<text x="86.3" y="399.7"><tspan font-weight="bold" font-style="italic" font-size="10.5">g</tspan><tspan font-weight="bold" font-size="8.2" dy="2.4">0</tspan></text>
<path d="M89.6 403.6 L92.09 406.91" stroke="#000" stroke-width="1.5" fill="none"/>
<path d="M93.9 409.3 L90.04 407.83 L93.55 405.18 Z" fill="#000"/>
<text x="111.4" y="390.2"><tspan font-family="'Liberation Serif', serif" font-size="10.9">Δ</tspan><tspan font-weight="bold" font-style="italic" font-size="11.6">g</tspan><tspan font-size="10.6" dx="1.8">=</tspan><tspan font-weight="bold" font-size="10.6" dx="2">0</tspan></text>
<text x="67.7" y="473.6" font-weight="bold">0</text>
<text x="107.3" y="473.6"><tspan font-weight="bold" font-style="italic" font-size="10.5">T</tspan><tspan font-weight="bold" font-style="italic" font-size="7.4" dy="2.8">R</tspan></text>
<text x="135.5" y="475.4">Time</text>
<path d="M182.7 165.6 V503" stroke="#000" stroke-width="1.3" stroke-dasharray="11.4 2 1 2" fill="none"/>
<path d="M154.7 492.7 L166.5 488.2 V490.6 H182.7 V494.8 H166.5 V497.2 Z" fill="url(#gl)"/>
<path d="M206.3 492.7 L194.5 488.2 V490.6 H182.7 V494.8 H194.5 V497.2 Z" fill="url(#gr)"/>
<text x="100.6" y="507.5">Fast time scale</text>
<text x="196.4" y="507.5">Slow time scale</text>
<path d="M240 194.8 C238.1 196 237.3 198.8 237.3 203.8 V251 C237.3 255 236 257 233.3 258 C236 259 237.3 261 237.3 265 V312.6 C237.3 317.6 238.1 320.4 240 321.6" fill="none" stroke="#0000FF" stroke-width="1.55"/>
<path d="M241.3 381.4 C238.4 382.6 237.6 385.4 237.6 390.4 V414.2 C237.6 418.2 236.3 420.2 233.3 421.2 C236.3 422.2 237.6 424.2 237.6 428.2 V450.2 C237.6 455.2 238.4 458 241.3 459.2" fill="none" stroke="#0000FF" stroke-width="1.55"/>
<text x="201.6" y="260.8">QSML</text>
<text x="200.4" y="424.5">CWML</text>
<path d="M328.8 182.26 L329.21 182.62 L329.62 182.69 L330.02 182.45 L330.43 181.93 L330.84 181.19 L331.25 180.29 L331.66 179.33 L332.06 178.41 L332.47 177.62 L332.88 177.05 L333.29 176.74 L333.7 176.74 L334.11 177.03 L334.51 177.6 L334.92 178.38 L335.33 179.3 L335.74 180.26 L336.15 181.16 L336.55 181.91 L336.96 182.44 L337.37 182.68 L337.78 182.63 L338.19 182.27 L338.59 181.66 L339 180.84 L339.41 179.91 L339.82 178.96 L340.23 178.08 L340.64 177.37 L341.04 176.89 L341.45 176.7 L341.86 176.82 L342.27 177.23 L342.68 177.89 L343.08 178.74 L343.49 179.68 L343.9 180.63" fill="none" stroke="#4f762b" stroke-width="1.45" stroke-linejoin="round" stroke-linecap="butt"/>
<path d="M328.8 177.14 L329.21 176.78 L329.62 176.71 L330.02 176.95 L330.43 177.47 L330.84 178.21 L331.25 179.11 L331.66 180.07 L332.06 180.99 L332.47 181.78 L332.88 182.35 L333.29 182.66 L333.7 182.66 L334.11 182.37 L334.51 181.8 L334.92 181.02 L335.33 180.1 L335.74 179.14 L336.15 178.24 L336.55 177.49 L336.96 176.96 L337.37 176.72 L337.78 176.77 L338.19 177.13 L338.59 177.74 L339 178.56 L339.41 179.49 L339.82 180.44 L340.23 181.32 L340.64 182.03 L341.04 182.51 L341.45 182.7 L341.86 182.58 L342.27 182.17 L342.68 181.51 L343.08 180.66 L343.49 179.72 L343.9 178.77" fill="none" stroke="#4f762b" stroke-width="1.45" stroke-linejoin="round" stroke-linecap="butt"/>
<path d="M343.9 182.26 L344.3 182.62 L344.71 182.69 L345.11 182.46 L345.51 181.97 L345.91 181.24 L346.32 180.36 L346.72 179.42 L347.12 178.51 L347.52 177.71 L347.93 177.11 L348.33 176.77 L348.73 176.72 L349.13 176.96 L349.54 177.48 L349.94 178.21 L350.34 179.1 L350.74 180.04 L351.15 180.95 L351.55 181.74 L351.95 182.32 L352.36 182.64 L352.76 182.68 L353.16 182.41 L353.56 181.88 L353.97 181.13 L354.37 180.24 L354.77 179.3 L355.17 178.39 L355.58 177.62 L355.98 177.05 L356.38 176.74 L356.78 176.73 L357.19 177.01 L357.59 177.56 L357.99 178.32 L358.39 179.22 L358.8 180.16 L359.2 181.06" fill="none" stroke="#4f762b" stroke-width="1.45" stroke-linejoin="round" stroke-linecap="butt"/>
<path d="M343.9 177.14 L344.3 176.78 L344.71 176.71 L345.11 176.94 L345.51 177.43 L345.91 178.16 L346.32 179.04 L346.72 179.98 L347.12 180.89 L347.52 181.69 L347.93 182.29 L348.33 182.63 L348.73 182.68 L349.13 182.44 L349.54 181.92 L349.94 181.19 L350.34 180.3 L350.74 179.36 L351.15 178.45 L351.55 177.66 L351.95 177.08 L352.36 176.76 L352.76 176.72 L353.16 176.99 L353.56 177.52 L353.97 178.27 L354.37 179.16 L354.77 180.1 L355.17 181.01 L355.58 181.78 L355.98 182.35 L356.38 182.66 L356.78 182.67 L357.19 182.39 L357.59 181.84 L357.99 181.08 L358.39 180.18 L358.8 179.24 L359.2 178.34" fill="none" stroke="#4f762b" stroke-width="1.45" stroke-linejoin="round" stroke-linecap="butt"/>
<path d="M359.2 182.26 L359.6 182.62 L360 182.69 L360.4 182.47 L360.8 181.98 L361.2 181.27 L361.6 180.4 L362 179.46 L362.4 178.55 L362.8 177.75 L363.2 177.14 L363.6 176.78 L364 176.71 L364.4 176.93 L364.8 177.42 L365.2 178.13 L365.6 179 L366 179.94 L366.4 180.85 L366.8 181.65 L367.2 182.26 L367.6 182.62 L368 182.69 L368.4 182.47 L368.8 181.98 L369.2 181.27 L369.6 180.4 L370 179.46 L370.4 178.55 L370.8 177.75 L371.2 177.14 L371.6 176.78 L372 176.71 L372.4 176.93 L372.8 177.42 L373.2 178.13 L373.6 179 L374 179.94 L374.4 180.85 L374.8 181.65 L375.2 182.26 L375.6 182.62 L376 182.69" fill="none" stroke="#4f762b" stroke-width="1.45" stroke-linejoin="round" stroke-linecap="butt"/>
<path d="M359.2 177.14 L359.6 176.78 L360 176.71 L360.4 176.93 L360.8 177.42 L361.2 178.13 L361.6 179 L362 179.94 L362.4 180.85 L362.8 181.65 L363.2 182.26 L363.6 182.62 L364 182.69 L364.4 182.47 L364.8 181.98 L365.2 181.27 L365.6 180.4 L366 179.46 L366.4 178.55 L366.8 177.75 L367.2 177.14 L367.6 176.78 L368 176.71 L368.4 176.93 L368.8 177.42 L369.2 178.13 L369.6 179 L370 179.94 L370.4 180.85 L370.8 181.65 L371.2 182.26 L371.6 182.62 L372 182.69 L372.4 182.47 L372.8 181.98 L373.2 181.27 L373.6 180.4 L374 179.46 L374.4 178.55 L374.8 177.75 L375.2 177.14 L375.6 176.78 L376 176.71" fill="none" stroke="#4f762b" stroke-width="1.45" stroke-linejoin="round" stroke-linecap="butt"/>
<path d="M376 182.26 L376.41 182.62 L376.82 182.69 L377.22 182.45 L377.63 181.93 L378.04 181.19 L378.45 180.29 L378.85 179.34 L379.26 178.42 L379.67 177.63 L380.08 177.05 L380.48 176.74 L380.89 176.73 L381.3 177.03 L381.71 177.59 L382.12 178.37 L382.52 179.28 L382.93 180.24 L383.34 181.14 L383.75 181.9 L384.15 182.43 L384.56 182.68 L384.97 182.63 L385.38 182.29 L385.78 181.68 L386.19 180.86 L386.6 179.94 L387.01 178.98 L387.42 178.1 L387.82 177.38 L388.23 176.9 L388.64 176.7 L389.05 176.81 L389.45 177.21 L389.86 177.86 L390.27 178.7 L390.68 179.65 L391.08 180.59 L391.49 181.45 L391.9 182.13" fill="none" stroke="#4f762b" stroke-width="1.45" stroke-linejoin="round" stroke-linecap="butt"/>
<path d="M376 177.14 L376.41 176.78 L376.82 176.71 L377.22 176.95 L377.63 177.47 L378.04 178.21 L378.45 179.11 L378.85 180.06 L379.26 180.98 L379.67 181.77 L380.08 182.35 L380.48 182.66 L380.89 182.67 L381.3 182.37 L381.71 181.81 L382.12 181.03 L382.52 180.12 L382.93 179.16 L383.34 178.26 L383.75 177.5 L384.15 176.97 L384.56 176.72 L384.97 176.77 L385.38 177.11 L385.78 177.72 L386.19 178.54 L386.6 179.46 L387.01 180.42 L387.42 181.3 L387.82 182.02 L388.23 182.5 L388.64 182.7 L389.05 182.59 L389.45 182.19 L389.86 181.54 L390.27 180.7 L390.68 179.75 L391.08 178.81 L391.49 177.95 L391.9 177.27" fill="none" stroke="#4f762b" stroke-width="1.45" stroke-linejoin="round" stroke-linecap="butt"/>
<circle cx="328.8" cy="179.6" r="4.6" fill="url(#ball)" stroke="#1fa851" stroke-width="0.7"/>
<circle cx="343.9" cy="179.6" r="4.6" fill="url(#ball)" stroke="#1fa851" stroke-width="0.7"/>
<circle cx="359.2" cy="179.6" r="4.6" fill="url(#ball)" stroke="#1fa851" stroke-width="0.7"/>
<circle cx="376" cy="179.6" r="4.6" fill="url(#ball)" stroke="#1fa851" stroke-width="0.7"/>
<circle cx="391.9" cy="179.6" r="4.6" fill="url(#ball)" stroke="#1fa851" stroke-width="0.7"/>
<path d="M509.7 182.26 L510.11 182.62 L510.51 182.69 L510.92 182.46 L511.32 181.95 L511.73 181.21 L512.13 180.32 L512.54 179.37 L512.94 178.46 L513.35 177.66 L513.76 177.08 L514.16 176.75 L514.57 176.73 L514.97 177 L515.38 177.54 L515.78 178.3 L516.19 179.2 L516.59 180.16 L517 181.06 L517.41 181.83 L517.81 182.38 L518.22 182.67 L518.62 182.65 L519.03 182.34 L519.43 181.77 L519.84 180.98 L520.24 180.07 L520.65 179.11 L521.06 178.22 L521.46 177.48 L521.87 176.96 L522.27 176.72 L522.68 176.77 L523.08 177.12 L523.49 177.73 L523.89 178.54 L524.3 179.46" fill="none" stroke="#4f762b" stroke-width="1.45" stroke-linejoin="round" stroke-linecap="butt"/>
<path d="M509.7 177.14 L510.11 176.78 L510.51 176.71 L510.92 176.94 L511.32 177.45 L511.73 178.19 L512.13 179.08 L512.54 180.03 L512.94 180.94 L513.35 181.74 L513.76 182.32 L514.16 182.65 L514.57 182.67 L514.97 182.4 L515.38 181.86 L515.78 181.1 L516.19 180.2 L516.59 179.24 L517 178.34 L517.41 177.57 L517.81 177.02 L518.22 176.73 L518.62 176.75 L519.03 177.06 L519.43 177.63 L519.84 178.42 L520.24 179.33 L520.65 180.29 L521.06 181.18 L521.46 181.92 L521.87 182.44 L522.27 182.68 L522.68 182.63 L523.08 182.28 L523.49 181.67 L523.89 180.86 L524.3 179.94" fill="none" stroke="#4f762b" stroke-width="1.45" stroke-linejoin="round" stroke-linecap="butt"/>
<path d="M524.3 182.26 L524.7 182.62 L525.1 182.69 L525.5 182.47 L525.9 181.98 L526.3 181.27 L526.7 180.4 L527.1 179.46 L527.5 178.55 L527.9 177.75 L528.3 177.14 L528.7 176.78 L529.1 176.71 L529.5 176.93 L529.9 177.42 L530.3 178.13 L530.7 179 L531.1 179.94 L531.5 180.85 L531.9 181.65 L532.3 182.26 L532.7 182.62 L533.1 182.69 L533.5 182.47 L533.9 181.98 L534.3 181.27 L534.7 180.4 L535.1 179.46 L535.5 178.55 L535.9 177.75 L536.3 177.14 L536.7 176.78 L537.1 176.71 L537.5 176.93 L537.9 177.42 L538.3 178.13 L538.7 179 L539.1 179.94" fill="none" stroke="#4f762b" stroke-width="1.45" stroke-linejoin="round" stroke-linecap="butt"/>
<path d="M524.3 177.14 L524.7 176.78 L525.1 176.71 L525.5 176.93 L525.9 177.42 L526.3 178.13 L526.7 179 L527.1 179.94 L527.5 180.85 L527.9 181.65 L528.3 182.26 L528.7 182.62 L529.1 182.69 L529.5 182.47 L529.9 181.98 L530.3 181.27 L530.7 180.4 L531.1 179.46 L531.5 178.55 L531.9 177.75 L532.3 177.14 L532.7 176.78 L533.1 176.71 L533.5 176.93 L533.9 177.42 L534.3 178.13 L534.7 179 L535.1 179.94 L535.5 180.85 L535.9 181.65 L536.3 182.26 L536.7 182.62 L537.1 182.69 L537.5 182.47 L537.9 181.98 L538.3 181.27 L538.7 180.4 L539.1 179.46" fill="none" stroke="#4f762b" stroke-width="1.45" stroke-linejoin="round" stroke-linecap="butt"/>
<path d="M539.1 182.26 L539.5 182.62 L539.91 182.69 L540.31 182.46 L540.72 181.95 L541.12 181.22 L541.53 180.34 L541.93 179.39 L542.34 178.47 L542.74 177.68 L543.15 177.09 L543.55 176.76 L543.96 176.72 L544.36 176.99 L544.77 177.52 L545.17 178.27 L545.57 179.17 L545.98 180.12 L546.38 181.03 L546.79 181.8 L547.19 182.37 L547.6 182.66 L548 182.66 L548.41 182.37 L548.81 181.8 L549.22 181.03 L549.62 180.12 L550.03 179.17 L550.43 178.27 L550.83 177.52 L551.24 176.99 L551.64 176.72 L552.05 176.76 L552.45 177.09 L552.86 177.68 L553.26 178.47 L553.67 179.39 L554.07 180.34 L554.48 181.22 L554.88 181.95 L555.29 182.46 L555.69 182.69 L556.1 182.62 L556.5 182.26" fill="none" stroke="#4f762b" stroke-width="1.45" stroke-linejoin="round" stroke-linecap="butt"/>
<path d="M539.1 177.14 L539.5 176.78 L539.91 176.71 L540.31 176.94 L540.72 177.45 L541.12 178.18 L541.53 179.06 L541.93 180.01 L542.34 180.93 L542.74 181.72 L543.15 182.31 L543.55 182.64 L543.96 182.68 L544.36 182.41 L544.77 181.88 L545.17 181.13 L545.57 180.23 L545.98 179.28 L546.38 178.37 L546.79 177.6 L547.19 177.03 L547.6 176.74 L548 176.74 L548.41 177.03 L548.81 177.6 L549.22 178.37 L549.62 179.28 L550.03 180.23 L550.43 181.13 L550.83 181.88 L551.24 182.41 L551.64 182.68 L552.05 182.64 L552.45 182.31 L552.86 181.72 L553.26 180.93 L553.67 180.01 L554.07 179.06 L554.48 178.18 L554.88 177.45 L555.29 176.94 L555.69 176.71 L556.1 176.78 L556.5 177.14" fill="none" stroke="#4f762b" stroke-width="1.45" stroke-linejoin="round" stroke-linecap="butt"/>
<path d="M556.5 182.26 L556.91 182.62 L557.32 182.69 L557.72 182.45 L558.13 181.93 L558.54 181.19 L558.95 180.29 L559.35 179.34 L559.76 178.42 L560.17 177.63 L560.58 177.05 L560.98 176.74 L561.39 176.73 L561.8 177.03 L562.21 177.59 L562.62 178.37 L563.02 179.28 L563.43 180.24 L563.84 181.14 L564.25 181.9 L564.65 182.43 L565.06 182.68 L565.47 182.63 L565.88 182.29 L566.28 181.68 L566.69 180.86 L567.1 179.94 L567.51 178.98 L567.92 178.1 L568.32 177.38 L568.73 176.9 L569.14 176.7 L569.55 176.81 L569.95 177.21 L570.36 177.86 L570.77 178.7 L571.18 179.65 L571.58 180.59 L571.99 181.45 L572.4 182.13" fill="none" stroke="#4f762b" stroke-width="1.45" stroke-linejoin="round" stroke-linecap="butt"/>
<path d="M556.5 177.14 L556.91 176.78 L557.32 176.71 L557.72 176.95 L558.13 177.47 L558.54 178.21 L558.95 179.11 L559.35 180.06 L559.76 180.98 L560.17 181.77 L560.58 182.35 L560.98 182.66 L561.39 182.67 L561.8 182.37 L562.21 181.81 L562.62 181.03 L563.02 180.12 L563.43 179.16 L563.84 178.26 L564.25 177.5 L564.65 176.97 L565.06 176.72 L565.47 176.77 L565.88 177.11 L566.28 177.72 L566.69 178.54 L567.1 179.46 L567.51 180.42 L567.92 181.3 L568.32 182.02 L568.73 182.5 L569.14 182.7 L569.55 182.59 L569.95 182.19 L570.36 181.54 L570.77 180.7 L571.18 179.75 L571.58 178.81 L571.99 177.95 L572.4 177.27" fill="none" stroke="#4f762b" stroke-width="1.45" stroke-linejoin="round" stroke-linecap="butt"/>
<circle cx="509.7" cy="179.6" r="4.6" fill="url(#ball)" stroke="#1fa851" stroke-width="0.7"/>
<circle cx="524.3" cy="179.6" r="4.6" fill="url(#ball)" stroke="#1fa851" stroke-width="0.7"/>
<circle cx="539.1" cy="179.6" r="4.6" fill="url(#ball)" stroke="#1fa851" stroke-width="0.7"/>
<circle cx="556.5" cy="179.6" r="4.6" fill="url(#ball)" stroke="#1fa851" stroke-width="0.7"/>
<circle cx="572.4" cy="179.6" r="4.6" fill="url(#ball)" stroke="#1fa851" stroke-width="0.7"/>
<text x="330.7" y="169.3" fill="#00B050">Bound solitons</text>
<path d="M320.6 190.5 L334.4 203.6 L337.8 200.7 L350.4 213.4 L354.1 210.8 L366.6 223.5 L370.1 220.7 L382.8 233 L386.3 230.5 L398.9 242.8 L401.2 238 L404.4 232.1 L408.5 226 L413.7 219.9 L422 211.8 L432.5 204.6 L441.5 200 L451.2 196.4 L460 193.9 L469.9 191.9 L479 190.7 L488.6 190.1 L500.3 190 L513.4 204 L517.7 200.8 L529.3 213.4 L533.6 210.4 L546.2 223.7 L550.3 220.5 L562.1 233.4 L566.4 230.8 L579.5 243 L590.7 234" fill="none" stroke="#FF0000" stroke-width="2.4" stroke-linejoin="round" stroke-linecap="butt"/>
<path d="M307.8 189.6 L500.8 189.6" stroke="#000" stroke-width="1.1" stroke-dasharray="2.75 1.05" fill="none"/>
<path d="M308.7 243.7 L402.4 243.7" stroke="#000" stroke-width="1.1" stroke-dasharray="2.75 1.05" fill="none"/>
<path d="M407.2 243.7 L499.9 243.7" stroke="#000" stroke-width="1.1" stroke-dasharray="2.75 1.05" fill="none"/>
<path d="M321.3 249.2 L321.64 248.75 L321.98 248.01 L322.32 246.98 L322.66 245.93 L323 245.01 L323.34 244.12 L323.68 243.14 L324.02 241.96 L324.36 240.35 L324.7 238.2 L325.04 235.93 L325.38 233.92 L325.72 231.57 L325.92 229.57 L326.22 224.51 L326.52 217.42 L326.81 209.07 L327.11 201.11 L327.41 193.11 L327.7 188.23 L328 186.24 L328.3 188.23 L328.59 193.11 L328.89 201.11 L329.19 209.07 L329.48 217.42 L329.78 224.51 L330.08 229.57 L330.28 231.57 L330.62 233.92 L330.96 235.93 L331.3 238.2 L331.64 240.35 L331.98 241.96 L332.32 243.14 L332.66 244.12 L333 245.01 L333.34 245.93 L333.68 246.98 L334.02 248.01 L334.36 248.75 L334.7 249.2 Z" fill="url(#pg)" stroke="none"/>
<path d="M321.3 249.2 L321.64 248.75 L321.98 248.01 L322.32 246.98 L322.66 245.93 L323 245.01 L323.34 244.12 L323.68 243.14 L324.02 241.96 L324.36 240.35 L324.7 238.2 L325.04 235.93 L325.38 233.92 L325.72 231.57 L325.92 229.57 L326.22 224.51 L326.52 217.42 L326.81 209.07 L327.11 201.11 L327.41 193.11 L327.7 188.23 L328 186.24 L328.3 188.23 L328.59 193.11 L328.89 201.11 L329.19 209.07 L329.48 217.42 L329.78 224.51 L330.08 229.57 L330.28 231.57 L330.62 233.92 L330.96 235.93 L331.3 238.2 L331.64 240.35 L331.98 241.96 L332.32 243.14 L332.66 244.12 L333 245.01 L333.34 245.93 L333.68 246.98 L334.02 248.01 L334.36 248.75 L334.7 249.2" fill="none" stroke="#0000FF" stroke-width="1.9" stroke-linejoin="round"/>
<path d="M337 249.2 L337.34 248.75 L337.68 248.01 L338.02 246.98 L338.36 245.93 L338.7 245.01 L339.04 244.12 L339.38 243.14 L339.72 241.96 L340.06 240.35 L340.4 238.2 L340.74 235.93 L341.08 233.92 L341.42 231.57 L341.62 229.57 L341.92 224.51 L342.22 217.42 L342.51 209.07 L342.81 201.11 L343.11 193.11 L343.4 188.23 L343.7 186.24 L344 188.23 L344.29 193.11 L344.59 201.11 L344.89 209.07 L345.18 217.42 L345.48 224.51 L345.78 229.57 L345.98 231.57 L346.32 233.92 L346.66 235.93 L347 238.2 L347.34 240.35 L347.68 241.96 L348.02 243.14 L348.36 244.12 L348.7 245.01 L349.04 245.93 L349.38 246.98 L349.72 248.01 L350.06 248.75 L350.4 249.2 Z" fill="url(#pg)" stroke="none"/>
<path d="M337 249.2 L337.34 248.75 L337.68 248.01 L338.02 246.98 L338.36 245.93 L338.7 245.01 L339.04 244.12 L339.38 243.14 L339.72 241.96 L340.06 240.35 L340.4 238.2 L340.74 235.93 L341.08 233.92 L341.42 231.57 L341.62 229.57 L341.92 224.51 L342.22 217.42 L342.51 209.07 L342.81 201.11 L343.11 193.11 L343.4 188.23 L343.7 186.24 L344 188.23 L344.29 193.11 L344.59 201.11 L344.89 209.07 L345.18 217.42 L345.48 224.51 L345.78 229.57 L345.98 231.57 L346.32 233.92 L346.66 235.93 L347 238.2 L347.34 240.35 L347.68 241.96 L348.02 243.14 L348.36 244.12 L348.7 245.01 L349.04 245.93 L349.38 246.98 L349.72 248.01 L350.06 248.75 L350.4 249.2" fill="none" stroke="#0000FF" stroke-width="1.9" stroke-linejoin="round"/>
<path d="M352.6 249.2 L352.94 248.75 L353.28 248.01 L353.62 246.98 L353.96 245.93 L354.3 245.01 L354.64 244.12 L354.98 243.14 L355.32 241.96 L355.66 240.35 L356 238.2 L356.34 235.93 L356.68 233.92 L357.02 231.57 L357.22 229.57 L357.52 224.51 L357.82 217.42 L358.11 209.07 L358.41 201.11 L358.71 193.11 L359 188.23 L359.3 186.24 L359.6 188.23 L359.89 193.11 L360.19 201.11 L360.49 209.07 L360.78 217.42 L361.08 224.51 L361.38 229.57 L361.58 231.57 L361.92 233.92 L362.26 235.93 L362.6 238.2 L362.94 240.35 L363.28 241.96 L363.62 243.14 L363.96 244.12 L364.3 245.01 L364.64 245.93 L364.98 246.98 L365.32 248.01 L365.66 248.75 L366 249.2 Z" fill="url(#pg)" stroke="none"/>
<path d="M352.6 249.2 L352.94 248.75 L353.28 248.01 L353.62 246.98 L353.96 245.93 L354.3 245.01 L354.64 244.12 L354.98 243.14 L355.32 241.96 L355.66 240.35 L356 238.2 L356.34 235.93 L356.68 233.92 L357.02 231.57 L357.22 229.57 L357.52 224.51 L357.82 217.42 L358.11 209.07 L358.41 201.11 L358.71 193.11 L359 188.23 L359.3 186.24 L359.6 188.23 L359.89 193.11 L360.19 201.11 L360.49 209.07 L360.78 217.42 L361.08 224.51 L361.38 229.57 L361.58 231.57 L361.92 233.92 L362.26 235.93 L362.6 238.2 L362.94 240.35 L363.28 241.96 L363.62 243.14 L363.96 244.12 L364.3 245.01 L364.64 245.93 L364.98 246.98 L365.32 248.01 L365.66 248.75 L366 249.2" fill="none" stroke="#0000FF" stroke-width="1.9" stroke-linejoin="round"/>
<path d="M369.1 249.2 L369.44 248.75 L369.78 248.01 L370.12 246.98 L370.46 245.93 L370.8 245.01 L371.14 244.12 L371.48 243.14 L371.82 241.96 L372.16 240.35 L372.5 238.2 L372.84 235.93 L373.18 233.92 L373.52 231.57 L373.72 229.57 L374.02 224.51 L374.32 217.42 L374.61 209.07 L374.91 201.11 L375.21 193.11 L375.5 188.23 L375.8 186.24 L376.1 188.23 L376.39 193.11 L376.69 201.11 L376.99 209.07 L377.28 217.42 L377.58 224.51 L377.88 229.57 L378.08 231.57 L378.42 233.92 L378.76 235.93 L379.1 238.2 L379.44 240.35 L379.78 241.96 L380.12 243.14 L380.46 244.12 L380.8 245.01 L381.14 245.93 L381.48 246.98 L381.82 248.01 L382.16 248.75 L382.5 249.2 Z" fill="url(#pg)" stroke="none"/>
<path d="M369.1 249.2 L369.44 248.75 L369.78 248.01 L370.12 246.98 L370.46 245.93 L370.8 245.01 L371.14 244.12 L371.48 243.14 L371.82 241.96 L372.16 240.35 L372.5 238.2 L372.84 235.93 L373.18 233.92 L373.52 231.57 L373.72 229.57 L374.02 224.51 L374.32 217.42 L374.61 209.07 L374.91 201.11 L375.21 193.11 L375.5 188.23 L375.8 186.24 L376.1 188.23 L376.39 193.11 L376.69 201.11 L376.99 209.07 L377.28 217.42 L377.58 224.51 L377.88 229.57 L378.08 231.57 L378.42 233.92 L378.76 235.93 L379.1 238.2 L379.44 240.35 L379.78 241.96 L380.12 243.14 L380.46 244.12 L380.8 245.01 L381.14 245.93 L381.48 246.98 L381.82 248.01 L382.16 248.75 L382.5 249.2" fill="none" stroke="#0000FF" stroke-width="1.9" stroke-linejoin="round"/>
<path d="M385 249.2 L385.34 248.75 L385.68 248.01 L386.02 246.98 L386.36 245.93 L386.7 245.01 L387.04 244.12 L387.38 243.14 L387.72 241.96 L388.06 240.35 L388.4 238.2 L388.74 235.93 L389.08 233.92 L389.42 231.57 L389.62 229.57 L389.92 224.51 L390.22 217.42 L390.51 209.07 L390.81 201.11 L391.11 193.11 L391.4 188.23 L391.7 186.24 L392 188.23 L392.29 193.11 L392.59 201.11 L392.89 209.07 L393.18 217.42 L393.48 224.51 L393.78 229.57 L393.98 231.57 L394.32 233.92 L394.66 235.93 L395 238.2 L395.34 240.35 L395.68 241.96 L396.02 243.14 L396.36 244.12 L396.7 245.01 L397.04 245.93 L397.38 246.98 L397.72 248.01 L398.06 248.75 L398.4 249.2 Z" fill="url(#pg)" stroke="none"/>
<path d="M385 249.2 L385.34 248.75 L385.68 248.01 L386.02 246.98 L386.36 245.93 L386.7 245.01 L387.04 244.12 L387.38 243.14 L387.72 241.96 L388.06 240.35 L388.4 238.2 L388.74 235.93 L389.08 233.92 L389.42 231.57 L389.62 229.57 L389.92 224.51 L390.22 217.42 L390.51 209.07 L390.81 201.11 L391.11 193.11 L391.4 188.23 L391.7 186.24 L392 188.23 L392.29 193.11 L392.59 201.11 L392.89 209.07 L393.18 217.42 L393.48 224.51 L393.78 229.57 L393.98 231.57 L394.32 233.92 L394.66 235.93 L395 238.2 L395.34 240.35 L395.68 241.96 L396.02 243.14 L396.36 244.12 L396.7 245.01 L397.04 245.93 L397.38 246.98 L397.72 248.01 L398.06 248.75 L398.4 249.2" fill="none" stroke="#0000FF" stroke-width="1.9" stroke-linejoin="round"/>
<path d="M500.7 249.2 L501.04 248.75 L501.38 248.01 L501.72 246.98 L502.06 245.93 L502.4 245.01 L502.74 244.12 L503.08 243.14 L503.42 241.96 L503.76 240.35 L504.1 238.2 L504.44 235.93 L504.78 233.92 L505.12 231.57 L505.32 229.57 L505.62 224.51 L505.92 217.42 L506.21 209.07 L506.51 201.11 L506.81 193.11 L507.1 188.23 L507.4 186.24 L507.7 188.23 L507.99 193.11 L508.29 201.11 L508.59 209.07 L508.88 217.42 L509.18 224.51 L509.48 229.57 L509.68 231.57 L510.02 233.92 L510.36 235.93 L510.7 238.2 L511.04 240.35 L511.38 241.96 L511.72 243.14 L512.06 244.12 L512.4 245.01 L512.74 245.93 L513.08 246.98 L513.42 248.01 L513.76 248.75 L514.1 249.2 Z" fill="url(#pg)" stroke="none"/>
<path d="M500.7 249.2 L501.04 248.75 L501.38 248.01 L501.72 246.98 L502.06 245.93 L502.4 245.01 L502.74 244.12 L503.08 243.14 L503.42 241.96 L503.76 240.35 L504.1 238.2 L504.44 235.93 L504.78 233.92 L505.12 231.57 L505.32 229.57 L505.62 224.51 L505.92 217.42 L506.21 209.07 L506.51 201.11 L506.81 193.11 L507.1 188.23 L507.4 186.24 L507.7 188.23 L507.99 193.11 L508.29 201.11 L508.59 209.07 L508.88 217.42 L509.18 224.51 L509.48 229.57 L509.68 231.57 L510.02 233.92 L510.36 235.93 L510.7 238.2 L511.04 240.35 L511.38 241.96 L511.72 243.14 L512.06 244.12 L512.4 245.01 L512.74 245.93 L513.08 246.98 L513.42 248.01 L513.76 248.75 L514.1 249.2" fill="none" stroke="#0000FF" stroke-width="1.9" stroke-linejoin="round"/>
<path d="M516.4 249.2 L516.74 248.75 L517.08 248.01 L517.42 246.98 L517.76 245.93 L518.1 245.01 L518.44 244.12 L518.78 243.14 L519.12 241.96 L519.46 240.35 L519.8 238.2 L520.14 235.93 L520.48 233.92 L520.82 231.57 L521.02 229.57 L521.32 224.51 L521.62 217.42 L521.91 209.07 L522.21 201.11 L522.51 193.11 L522.8 188.23 L523.1 186.24 L523.4 188.23 L523.69 193.11 L523.99 201.11 L524.29 209.07 L524.58 217.42 L524.88 224.51 L525.18 229.57 L525.38 231.57 L525.72 233.92 L526.06 235.93 L526.4 238.2 L526.74 240.35 L527.08 241.96 L527.42 243.14 L527.76 244.12 L528.1 245.01 L528.44 245.93 L528.78 246.98 L529.12 248.01 L529.46 248.75 L529.8 249.2 Z" fill="url(#pg)" stroke="none"/>
<path d="M516.4 249.2 L516.74 248.75 L517.08 248.01 L517.42 246.98 L517.76 245.93 L518.1 245.01 L518.44 244.12 L518.78 243.14 L519.12 241.96 L519.46 240.35 L519.8 238.2 L520.14 235.93 L520.48 233.92 L520.82 231.57 L521.02 229.57 L521.32 224.51 L521.62 217.42 L521.91 209.07 L522.21 201.11 L522.51 193.11 L522.8 188.23 L523.1 186.24 L523.4 188.23 L523.69 193.11 L523.99 201.11 L524.29 209.07 L524.58 217.42 L524.88 224.51 L525.18 229.57 L525.38 231.57 L525.72 233.92 L526.06 235.93 L526.4 238.2 L526.74 240.35 L527.08 241.96 L527.42 243.14 L527.76 244.12 L528.1 245.01 L528.44 245.93 L528.78 246.98 L529.12 248.01 L529.46 248.75 L529.8 249.2" fill="none" stroke="#0000FF" stroke-width="1.9" stroke-linejoin="round"/>
<path d="M531.6 249.2 L531.94 248.75 L532.28 248.01 L532.62 246.98 L532.96 245.93 L533.3 245.01 L533.64 244.12 L533.98 243.14 L534.32 241.96 L534.66 240.35 L535 238.2 L535.34 235.93 L535.68 233.92 L536.02 231.57 L536.22 229.57 L536.52 224.51 L536.82 217.42 L537.11 209.07 L537.41 201.11 L537.71 193.11 L538 188.23 L538.3 186.24 L538.6 188.23 L538.89 193.11 L539.19 201.11 L539.49 209.07 L539.78 217.42 L540.08 224.51 L540.38 229.57 L540.58 231.57 L540.92 233.92 L541.26 235.93 L541.6 238.2 L541.94 240.35 L542.28 241.96 L542.62 243.14 L542.96 244.12 L543.3 245.01 L543.64 245.93 L543.98 246.98 L544.32 248.01 L544.66 248.75 L545 249.2 Z" fill="url(#pg)" stroke="none"/>
<path d="M531.6 249.2 L531.94 248.75 L532.28 248.01 L532.62 246.98 L532.96 245.93 L533.3 245.01 L533.64 244.12 L533.98 243.14 L534.32 241.96 L534.66 240.35 L535 238.2 L535.34 235.93 L535.68 233.92 L536.02 231.57 L536.22 229.57 L536.52 224.51 L536.82 217.42 L537.11 209.07 L537.41 201.11 L537.71 193.11 L538 188.23 L538.3 186.24 L538.6 188.23 L538.89 193.11 L539.19 201.11 L539.49 209.07 L539.78 217.42 L540.08 224.51 L540.38 229.57 L540.58 231.57 L540.92 233.92 L541.26 235.93 L541.6 238.2 L541.94 240.35 L542.28 241.96 L542.62 243.14 L542.96 244.12 L543.3 245.01 L543.64 245.93 L543.98 246.98 L544.32 248.01 L544.66 248.75 L545 249.2" fill="none" stroke="#0000FF" stroke-width="1.9" stroke-linejoin="round"/>
<path d="M548.8 249.2 L549.14 248.75 L549.48 248.01 L549.82 246.98 L550.16 245.93 L550.5 245.01 L550.84 244.12 L551.18 243.14 L551.52 241.96 L551.86 240.35 L552.2 238.2 L552.54 235.93 L552.88 233.92 L553.22 231.57 L553.42 229.57 L553.72 224.51 L554.02 217.42 L554.31 209.07 L554.61 201.11 L554.91 193.11 L555.2 188.23 L555.5 186.24 L555.8 188.23 L556.09 193.11 L556.39 201.11 L556.69 209.07 L556.98 217.42 L557.28 224.51 L557.58 229.57 L557.78 231.57 L558.12 233.92 L558.46 235.93 L558.8 238.2 L559.14 240.35 L559.48 241.96 L559.82 243.14 L560.16 244.12 L560.5 245.01 L560.84 245.93 L561.18 246.98 L561.52 248.01 L561.86 248.75 L562.2 249.2 Z" fill="url(#pg)" stroke="none"/>
<path d="M548.8 249.2 L549.14 248.75 L549.48 248.01 L549.82 246.98 L550.16 245.93 L550.5 245.01 L550.84 244.12 L551.18 243.14 L551.52 241.96 L551.86 240.35 L552.2 238.2 L552.54 235.93 L552.88 233.92 L553.22 231.57 L553.42 229.57 L553.72 224.51 L554.02 217.42 L554.31 209.07 L554.61 201.11 L554.91 193.11 L555.2 188.23 L555.5 186.24 L555.8 188.23 L556.09 193.11 L556.39 201.11 L556.69 209.07 L556.98 217.42 L557.28 224.51 L557.58 229.57 L557.78 231.57 L558.12 233.92 L558.46 235.93 L558.8 238.2 L559.14 240.35 L559.48 241.96 L559.82 243.14 L560.16 244.12 L560.5 245.01 L560.84 245.93 L561.18 246.98 L561.52 248.01 L561.86 248.75 L562.2 249.2" fill="none" stroke="#0000FF" stroke-width="1.9" stroke-linejoin="round"/>
<path d="M565.7 249.2 L566.04 248.75 L566.38 248.01 L566.72 246.98 L567.06 245.93 L567.4 245.01 L567.74 244.12 L568.08 243.14 L568.42 241.96 L568.76 240.35 L569.1 238.2 L569.44 235.93 L569.78 233.92 L570.12 231.57 L570.32 229.57 L570.62 224.51 L570.92 217.42 L571.21 209.07 L571.51 201.11 L571.81 193.11 L572.1 188.23 L572.4 186.24 L572.7 188.23 L572.99 193.11 L573.29 201.11 L573.59 209.07 L573.88 217.42 L574.18 224.51 L574.48 229.57 L574.68 231.57 L575.02 233.92 L575.36 235.93 L575.7 238.2 L576.04 240.35 L576.38 241.96 L576.72 243.14 L577.06 244.12 L577.4 245.01 L577.74 245.93 L578.08 246.98 L578.42 248.01 L578.76 248.75 L579.1 249.2 Z" fill="url(#pg)" stroke="none"/>
<path d="M565.7 249.2 L566.04 248.75 L566.38 248.01 L566.72 246.98 L567.06 245.93 L567.4 245.01 L567.74 244.12 L568.08 243.14 L568.42 241.96 L568.76 240.35 L569.1 238.2 L569.44 235.93 L569.78 233.92 L570.12 231.57 L570.32 229.57 L570.62 224.51 L570.92 217.42 L571.21 209.07 L571.51 201.11 L571.81 193.11 L572.1 188.23 L572.4 186.24 L572.7 188.23 L572.99 193.11 L573.29 201.11 L573.59 209.07 L573.88 217.42 L574.18 224.51 L574.48 229.57 L574.68 231.57 L575.02 233.92 L575.36 235.93 L575.7 238.2 L576.04 240.35 L576.38 241.96 L576.72 243.14 L577.06 244.12 L577.4 245.01 L577.74 245.93 L578.08 246.98 L578.42 248.01 L578.76 248.75 L579.1 249.2" fill="none" stroke="#0000FF" stroke-width="1.9" stroke-linejoin="round"/>
<path d="M320.1 249.3 V189.4 A3.5 3.5 0 0 1 323.6 185.9 H397 A3.5 3.5 0 0 1 400.5 189.4 V249.3" fill="none" stroke="#FF00FF" stroke-width="1.65" stroke-dasharray="1.6 2.05"/>
<path d="M500.4 249.3 V189.4 A3.5 3.5 0 0 1 503.9 185.9 H576.9 A3.5 3.5 0 0 1 580.4 189.4 V249.3" fill="none" stroke="#FF00FF" stroke-width="1.65" stroke-dasharray="1.6 2.05"/>
<path d="M262.8 169.2 L262.8 250.2 L646.2 250.2" fill="none" stroke="#000" stroke-width="1.9" stroke-linejoin="miter"/>
<path d="M262.8 165.2 l-2.9 5.7 h5.8 Z" fill="#000"/>
<path d="M650.2 250.2 l-5.7 -2.9 v5.8 Z" fill="#000"/>
<text x="253.9" y="226.6" transform="rotate(-90 253.9 226.6)">Intensity</text>
<text x="284.5" y="192.3"><tspan font-weight="bold" font-style="italic" font-size="10.5">g</tspan><tspan font-weight="bold" font-size="8.2" dy="2.4">0</tspan></text>
<path d="M296.8 189.8 L300.6 189.8" stroke="#000" stroke-width="1.5" fill="none"/>
<path d="M303.6 189.8 L300.1 192 L300.1 187.6 Z" fill="#000"/>
<text x="270.38" y="215.24" font-size="13.8" font-weight="bold">...</text>
<text x="308.1" y="215.9"><tspan font-weight="bold" font-style="italic" font-size="10.5">g</tspan><tspan font-weight="bold" font-style="italic" font-size="7.4" dy="2.2">d</tspan></text>
<path d="M312.8 201 L312.8 194.6" stroke="#000" stroke-width="1.5" fill="none"/>
<path d="M312.8 191.6 L315 195.1 L310.6 195.1 Z" fill="#000"/>
<path d="M312.8 232 L312.8 238.7" stroke="#000" stroke-width="1.5" fill="none"/>
<path d="M312.8 241.7 L310.6 238.2 L315 238.2 Z" fill="#000"/>
<text x="484.4" y="216.3"><tspan font-weight="bold" font-style="italic" font-size="10.5">g</tspan><tspan font-weight="bold" font-style="italic" font-size="7.4" dy="2.2">r</tspan></text>
<path d="M489.6 201 L489.6 193.8" stroke="#000" stroke-width="1.5" fill="none"/>
<path d="M489.6 190.8 L491.8 194.3 L487.4 194.3 Z" fill="#000"/>
<path d="M489.6 231.6 L489.6 238.7" stroke="#000" stroke-width="1.5" fill="none"/>
<path d="M489.6 241.7 L487.4 238.2 L491.8 238.2 Z" fill="#000"/>
<text x="622.68" y="216.54" font-size="13.8" font-weight="bold">...</text>
<text x="629.3" y="268.1">Time</text>
<path d="M300 285.2 L300.41 284.83 L300.82 284.55 L301.24 284.37 L301.65 284.3 L302.06 284.34 L302.47 284.49 L302.88 284.75 L303.3 285.1 L303.71 285.53 L304.12 286.02 L304.53 286.56 L304.94 287.12 L305.36 287.69 L305.77 288.24 L306.18 288.74 L306.59 289.19 L307 289.57 L307.42 289.85 L307.83 290.03 L308.24 290.1 L308.65 290.06 L309.06 289.91 L309.48 289.66 L309.89 289.31 L310.3 288.88" fill="none" stroke="#4f762b" stroke-width="1.7" stroke-linejoin="round" stroke-linecap="butt"/>
<path d="M314.8 285.04 L315.21 284.74 L315.61 284.51 L316.02 284.36 L316.43 284.3 L316.84 284.33 L317.24 284.45 L317.65 284.65 L318.06 284.93 L318.47 285.28 L318.87 285.69 L319.28 286.14 L319.69 286.63 L320.1 287.13 L320.5 287.64 L320.91 288.13 L321.32 288.6 L321.73 289.02 L322.13 289.39 L322.54 289.68 L322.95 289.91 L323.36 290.05 L323.76 290.1 L324.17 290.06 L324.58 289.94 L324.99 289.73 L325.39 289.45 L325.8 289.09" fill="none" stroke="#4f762b" stroke-width="1.7" stroke-linejoin="round" stroke-linecap="butt"/>
<path d="M330.3 285.06 L330.7 284.75 L331.11 284.52 L331.51 284.37 L331.91 284.3 L332.32 284.33 L332.72 284.44 L333.13 284.64 L333.53 284.92 L333.93 285.27 L334.34 285.68 L334.74 286.14 L335.14 286.63 L335.55 287.13 L335.95 287.64 L336.36 288.14 L336.76 288.61 L337.16 289.03 L337.57 289.39 L337.97 289.69 L338.37 289.91 L338.78 290.05 L339.18 290.1 L339.59 290.06 L339.99 289.93 L340.39 289.72 L340.8 289.42 L341.2 289.06" fill="none" stroke="#4f762b" stroke-width="1.7" stroke-linejoin="round" stroke-linecap="butt"/>
<path d="M345.7 285.02 L346.11 284.72 L346.52 284.5 L346.93 284.36 L347.34 284.3 L347.76 284.33 L348.17 284.45 L348.58 284.66 L348.99 284.94 L349.4 285.28 L349.81 285.69 L350.22 286.14 L350.63 286.63 L351.04 287.13 L351.46 287.64 L351.87 288.13 L352.28 288.59 L352.69 289.01 L353.1 289.38 L353.51 289.68 L353.92 289.9 L354.33 290.04 L354.74 290.1 L355.16 290.07 L355.57 289.95 L355.98 289.74 L356.39 289.46 L356.8 289.12" fill="none" stroke="#4f762b" stroke-width="1.7" stroke-linejoin="round" stroke-linecap="butt"/>
<path d="M361.3 285.15 L361.7 284.8 L362.11 284.54 L362.51 284.37 L362.92 284.3 L363.32 284.33 L363.72 284.46 L364.13 284.68 L364.53 285 L364.93 285.38 L365.34 285.83 L365.74 286.33 L366.15 286.86 L366.55 287.4 L366.95 287.93 L367.36 288.44 L367.76 288.91 L368.17 289.31 L368.57 289.64 L368.97 289.89 L369.38 290.04 L369.78 290.1 L370.18 290.05 L370.59 289.91 L370.99 289.67 L371.4 289.35 L371.8 288.95" fill="none" stroke="#4f762b" stroke-width="1.7" stroke-linejoin="round" stroke-linecap="butt"/>
<path d="M397.5 285.15 L397.9 284.8 L398.31 284.54 L398.71 284.37 L399.12 284.3 L399.52 284.33 L399.92 284.46 L400.33 284.68 L400.73 285 L401.13 285.38 L401.54 285.83 L401.94 286.33 L402.35 286.86 L402.75 287.4 L403.15 287.93 L403.56 288.44 L403.96 288.91 L404.37 289.31 L404.77 289.64 L405.17 289.89 L405.58 290.04 L405.98 290.1 L406.38 290.05 L406.79 289.91 L407.19 289.67 L407.6 289.35 L408 288.95" fill="none" stroke="#4f762b" stroke-width="1.7" stroke-linejoin="round" stroke-linecap="butt"/>
<path d="M412.5 284.97 L412.91 284.69 L413.31 284.49 L413.72 284.36 L414.13 284.3 L414.54 284.33 L414.94 284.43 L415.35 284.61 L415.76 284.87 L416.16 285.18 L416.57 285.55 L416.98 285.97 L417.39 286.42 L417.79 286.9 L418.2 287.38 L418.61 287.85 L419.01 288.31 L419.42 288.74 L419.83 289.12 L420.24 289.46 L420.64 289.73 L421.05 289.93 L421.46 290.05 L421.86 290.1 L422.27 290.07 L422.68 289.95 L423.09 289.77 L423.49 289.51 L423.9 289.19" fill="none" stroke="#4f762b" stroke-width="1.7" stroke-linejoin="round" stroke-linecap="butt"/>
<path d="M474.8 285.15 L475.2 284.8 L475.61 284.54 L476.01 284.37 L476.42 284.3 L476.82 284.33 L477.22 284.46 L477.63 284.68 L478.03 285 L478.43 285.38 L478.84 285.83 L479.24 286.33 L479.65 286.86 L480.05 287.4 L480.45 287.93 L480.86 288.44 L481.26 288.91 L481.67 289.31 L482.07 289.64 L482.47 289.89 L482.88 290.04 L483.28 290.1 L483.68 290.05 L484.09 289.91 L484.49 289.67 L484.9 289.35 L485.3 288.95" fill="none" stroke="#4f762b" stroke-width="1.7" stroke-linejoin="round" stroke-linecap="butt"/>
<path d="M489.8 284.84 L490.21 284.62 L490.62 284.45 L491.03 284.34 L491.44 284.3 L491.85 284.32 L492.26 284.41 L492.67 284.56 L493.08 284.77 L493.49 285.03 L493.9 285.34 L494.31 285.7 L494.72 286.09 L495.13 286.5 L495.54 286.92 L495.95 287.36 L496.36 287.79 L496.77 288.21 L497.18 288.6 L497.59 288.96 L498 289.29 L498.41 289.56 L498.82 289.79 L499.23 289.95 L499.64 290.06 L500.05 290.1 L500.46 290.07 L500.87 289.99 L501.28 289.83 L501.69 289.62 L502.1 289.36" fill="none" stroke="#4f762b" stroke-width="1.7" stroke-linejoin="round" stroke-linecap="butt"/>
<path d="M506.6 285.15 L507 284.8 L507.41 284.54 L507.81 284.37 L508.22 284.3 L508.62 284.33 L509.02 284.46 L509.43 284.68 L509.83 285 L510.23 285.38 L510.64 285.83 L511.04 286.33 L511.45 286.86 L511.85 287.4 L512.25 287.93 L512.66 288.44 L513.06 288.91 L513.47 289.31 L513.87 289.64 L514.27 289.89 L514.68 290.04 L515.08 290.1 L515.48 290.05 L515.89 289.91 L516.29 289.67 L516.7 289.35 L517.1 288.95" fill="none" stroke="#4f762b" stroke-width="1.7" stroke-linejoin="round" stroke-linecap="butt"/>
<path d="M521.6 285.15 L522 284.8 L522.41 284.54 L522.81 284.37 L523.22 284.3 L523.62 284.33 L524.02 284.46 L524.43 284.68 L524.83 285 L525.23 285.38 L525.64 285.83 L526.04 286.33 L526.45 286.86 L526.85 287.4 L527.25 287.93 L527.66 288.44 L528.06 288.91 L528.47 289.31 L528.87 289.64 L529.27 289.89 L529.68 290.04 L530.08 290.1 L530.48 290.05 L530.89 289.91 L531.29 289.67 L531.7 289.35 L532.1 288.95" fill="none" stroke="#4f762b" stroke-width="1.7" stroke-linejoin="round" stroke-linecap="butt"/>
<path d="M536.6 285.08 L537.02 284.76 L537.43 284.51 L537.85 284.36 L538.26 284.3 L538.68 284.34 L539.09 284.48 L539.51 284.7 L539.92 285.02 L540.34 285.4 L540.75 285.85 L541.17 286.34 L541.58 286.86 L542 287.39 L542.42 287.92 L542.83 288.42 L543.25 288.88 L543.66 289.28 L544.08 289.62 L544.49 289.87 L544.91 290.03 L545.32 290.1 L545.74 290.07 L546.15 289.94 L546.57 289.72 L546.98 289.42 L547.4 289.04" fill="none" stroke="#4f762b" stroke-width="1.7" stroke-linejoin="round" stroke-linecap="butt"/>
<path d="M573.7 285.23 L574.11 284.85 L574.52 284.56 L574.92 284.38 L575.33 284.3 L575.74 284.34 L576.15 284.49 L576.56 284.74 L576.96 285.09 L577.37 285.52 L577.78 286.02 L578.19 286.56 L578.6 287.12 L579 287.69 L579.41 288.24 L579.82 288.75 L580.23 289.2 L580.64 289.58 L581.04 289.86 L581.45 290.03 L581.86 290.1 L582.27 290.05 L582.68 289.9 L583.08 289.64 L583.49 289.28 L583.9 288.85" fill="none" stroke="#4f762b" stroke-width="1.7" stroke-linejoin="round" stroke-linecap="butt"/>
<path d="M588.4 284.8 L588.81 284.59 L589.22 284.44 L589.63 284.34 L590.04 284.3 L590.45 284.32 L590.86 284.4 L591.27 284.54 L591.68 284.73 L592.09 284.97 L592.5 285.26 L592.91 285.58 L593.32 285.94 L593.73 286.33 L594.14 286.73 L594.55 287.14 L594.95 287.56 L595.36 287.96 L595.77 288.36 L596.18 288.72 L596.59 289.06 L597 289.36 L597.41 289.61 L597.82 289.82 L598.23 289.97 L598.64 290.06 L599.05 290.1 L599.46 290.08 L599.87 290 L600.28 289.86 L600.69 289.66 L601.1 289.42" fill="none" stroke="#4f762b" stroke-width="1.7" stroke-linejoin="round" stroke-linecap="butt"/>
<path d="M376.3 285.1 L376.71 284.77 L377.11 284.53 L377.52 284.37 L377.93 284.3 L378.33 284.33 L378.74 284.46 L379.15 284.68 L379.55 284.98 L379.96 285.35 L380.37 285.79 L380.77 286.27 L381.18 286.78 L381.59 287.31 L381.99 287.84 L382.4 288.34" fill="none" stroke="#4f762b" stroke-width="1.7" stroke-linejoin="round" stroke-linecap="butt"/>
<path d="M388.6 288.42 L389.01 288.88 L389.42 289.29 L389.83 289.63 L390.24 289.88 L390.65 290.04 L391.05 290.1 L391.46 290.06 L391.87 289.92 L392.28 289.69 L392.69 289.37 L393.1 288.98" fill="none" stroke="#4f762b" stroke-width="1.7" stroke-linejoin="round" stroke-linecap="butt"/>
<path d="M551.9 285.1 L552.31 284.77 L552.71 284.53 L553.12 284.37 L553.53 284.3 L553.93 284.33 L554.34 284.46 L554.75 284.68 L555.15 284.98 L555.56 285.35 L555.97 285.79 L556.37 286.27 L556.78 286.78 L557.19 287.31 L557.59 287.84 L558 288.34" fill="none" stroke="#4f762b" stroke-width="1.7" stroke-linejoin="round" stroke-linecap="butt"/>
<path d="M564.7 288.42 L565.11 288.88 L565.52 289.29 L565.93 289.63 L566.34 289.88 L566.75 290.04 L567.15 290.1 L567.56 290.06 L567.97 289.92 L568.38 289.69 L568.79 289.37 L569.2 288.98" fill="none" stroke="#4f762b" stroke-width="1.7" stroke-linejoin="round" stroke-linecap="butt"/>
<circle cx="298" cy="287.2" r="4.4" fill="url(#ball)" stroke="#1fa851" stroke-width="0.7"/>
<circle cx="312.8" cy="287.2" r="4.4" fill="url(#ball)" stroke="#1fa851" stroke-width="0.7"/>
<circle cx="328.3" cy="287.2" r="4.4" fill="url(#ball)" stroke="#1fa851" stroke-width="0.7"/>
<circle cx="343.7" cy="287.2" r="4.4" fill="url(#ball)" stroke="#1fa851" stroke-width="0.7"/>
<circle cx="359.3" cy="287.2" r="4.4" fill="url(#ball)" stroke="#1fa851" stroke-width="0.7"/>
<circle cx="374.3" cy="287.2" r="4.4" fill="url(#ball)" stroke="#1fa851" stroke-width="0.7"/>
<circle cx="395.5" cy="287.2" r="4.4" fill="url(#ball)" stroke="#1fa851" stroke-width="0.7"/>
<circle cx="410.5" cy="287.2" r="4.4" fill="url(#ball)" stroke="#1fa851" stroke-width="0.7"/>
<circle cx="426.4" cy="287.2" r="4.4" fill="url(#ball)" stroke="#1fa851" stroke-width="0.7"/>
<circle cx="472.8" cy="287.2" r="4.4" fill="url(#ball)" stroke="#1fa851" stroke-width="0.7"/>
<circle cx="487.8" cy="287.2" r="4.4" fill="url(#ball)" stroke="#1fa851" stroke-width="0.7"/>
<circle cx="504.6" cy="287.2" r="4.4" fill="url(#ball)" stroke="#1fa851" stroke-width="0.7"/>
<circle cx="519.6" cy="287.2" r="4.4" fill="url(#ball)" stroke="#1fa851" stroke-width="0.7"/>
<circle cx="534.6" cy="287.2" r="4.4" fill="url(#ball)" stroke="#1fa851" stroke-width="0.7"/>
<circle cx="549.9" cy="287.2" r="4.4" fill="url(#ball)" stroke="#1fa851" stroke-width="0.7"/>
<circle cx="571.7" cy="287.2" r="4.4" fill="url(#ball)" stroke="#1fa851" stroke-width="0.7"/>
<circle cx="586.4" cy="287.2" r="4.4" fill="url(#ball)" stroke="#1fa851" stroke-width="0.7"/>
<circle cx="603.6" cy="287.2" r="4.4" fill="url(#ball)" stroke="#1fa851" stroke-width="0.7"/>
<rect x="381.4" y="286.7" width="1.2" height="1.2" fill="#3a3a3a"/>
<rect x="384.8" y="286.7" width="1.2" height="1.2" fill="#3a3a3a"/>
<rect x="388.2" y="286.7" width="1.2" height="1.2" fill="#3a3a3a"/>
<rect x="557.2" y="286.7" width="1.2" height="1.2" fill="#3a3a3a"/>
<rect x="560.6" y="286.7" width="1.2" height="1.2" fill="#3a3a3a"/>
<rect x="564" y="286.7" width="1.2" height="1.2" fill="#3a3a3a"/>
<text x="331" y="276.6" fill="#00B050">Bound solitons</text>
<path d="M290.6 306.3 L303.6 318.9 L306.9 308.2 L318.93 320.85 L322.23 310.1 L334.26 322.8 L337.56 312 L349.59 324.75 L352.89 313.9 L364.92 326.7 L368.22 315.8 L380.25 328.65 L383.55 317.7 L395.58 330.6 L398.88 319.6 L410.91 332.55 L414.21 321.5 L426.6 334.5 L428.6 331.4 L431.2 327.5 L434 323.6 L436.6 320.3 L442 314.3 L447.5 310.3 L452.9 307.9 L458.3 306.8 L463.7 306.4 L467.1 306.4 L479.6 318.9 L482.9 308.2 L494.93 320.85 L498.23 310.1 L510.26 322.8 L513.56 312 L525.59 324.75 L528.89 313.9 L540.92 326.7 L544.22 315.8 L556.25 328.65 L559.55 317.7 L571.58 330.6 L574.88 319.6 L586.91 332.55 L590.21 321.5 L602.24 334.5 L608.4 326.4" fill="none" stroke="#FF0000" stroke-width="2.4" stroke-linejoin="round" stroke-linecap="butt"/>
<path d="M285.3 305.5 L467.2 305.5" stroke="#000" stroke-width="1.1" stroke-dasharray="2.75 1.05" fill="none"/>
<path d="M287.1 335.6 L435.2 335.6" stroke="#000" stroke-width="1.1" stroke-dasharray="2.75 1.05" fill="none"/>
<path d="M439 335.6 L467 335.6" stroke="#000" stroke-width="1.1" stroke-dasharray="2.75 1.05" fill="none"/>
<path d="M290.4 356.4 L290.71 355.95 L291.02 355.23 L291.33 354.2 L291.64 353.17 L291.95 352.26 L292.26 351.37 L292.57 350.41 L292.88 349.24 L293.19 347.65 L293.5 345.53 L293.81 343.28 L294.12 341.29 L294.43 338.97 L294.61 336.98 L294.88 331.99 L295.15 324.97 L295.42 316.72 L295.69 308.85 L295.96 300.93 L296.23 296.11 L296.5 294.15 L296.77 296.11 L297.04 300.93 L297.31 308.85 L297.58 316.72 L297.85 324.97 L298.12 331.99 L298.39 336.98 L298.57 338.97 L298.88 341.29 L299.19 343.28 L299.5 345.53 L299.81 347.65 L300.12 349.24 L300.43 350.41 L300.74 351.37 L301.05 352.26 L301.36 353.17 L301.67 354.2 L301.98 355.23 L302.29 355.95 L302.6 356.4 Z" fill="url(#pg)" stroke="none"/>
<path d="M290.4 356.4 L290.71 355.95 L291.02 355.23 L291.33 354.2 L291.64 353.17 L291.95 352.26 L292.26 351.37 L292.57 350.41 L292.88 349.24 L293.19 347.65 L293.5 345.53 L293.81 343.28 L294.12 341.29 L294.43 338.97 L294.61 336.98 L294.88 331.99 L295.15 324.97 L295.42 316.72 L295.69 308.85 L295.96 300.93 L296.23 296.11 L296.5 294.15 L296.77 296.11 L297.04 300.93 L297.31 308.85 L297.58 316.72 L297.85 324.97 L298.12 331.99 L298.39 336.98 L298.57 338.97 L298.88 341.29 L299.19 343.28 L299.5 345.53 L299.81 347.65 L300.12 349.24 L300.43 350.41 L300.74 351.37 L301.05 352.26 L301.36 353.17 L301.67 354.2 L301.98 355.23 L302.29 355.95 L302.6 356.4" fill="none" stroke="#0000FF" stroke-width="1.9" stroke-linejoin="round"/>
<path d="M305.9 356.4 L306.21 355.95 L306.52 355.23 L306.83 354.2 L307.14 353.17 L307.45 352.26 L307.76 351.37 L308.07 350.41 L308.38 349.24 L308.69 347.65 L309 345.53 L309.31 343.28 L309.62 341.29 L309.93 338.97 L310.11 336.98 L310.38 331.99 L310.65 324.97 L310.92 316.72 L311.19 308.85 L311.46 300.93 L311.73 296.11 L312 294.15 L312.27 296.11 L312.54 300.93 L312.81 308.85 L313.08 316.72 L313.35 324.97 L313.62 331.99 L313.89 336.98 L314.07 338.97 L314.38 341.29 L314.69 343.28 L315 345.53 L315.31 347.65 L315.62 349.24 L315.93 350.41 L316.24 351.37 L316.55 352.26 L316.86 353.17 L317.17 354.2 L317.48 355.23 L317.79 355.95 L318.1 356.4 Z" fill="url(#pg)" stroke="none"/>
<path d="M305.9 356.4 L306.21 355.95 L306.52 355.23 L306.83 354.2 L307.14 353.17 L307.45 352.26 L307.76 351.37 L308.07 350.41 L308.38 349.24 L308.69 347.65 L309 345.53 L309.31 343.28 L309.62 341.29 L309.93 338.97 L310.11 336.98 L310.38 331.99 L310.65 324.97 L310.92 316.72 L311.19 308.85 L311.46 300.93 L311.73 296.11 L312 294.15 L312.27 296.11 L312.54 300.93 L312.81 308.85 L313.08 316.72 L313.35 324.97 L313.62 331.99 L313.89 336.98 L314.07 338.97 L314.38 341.29 L314.69 343.28 L315 345.53 L315.31 347.65 L315.62 349.24 L315.93 350.41 L316.24 351.37 L316.55 352.26 L316.86 353.17 L317.17 354.2 L317.48 355.23 L317.79 355.95 L318.1 356.4" fill="none" stroke="#0000FF" stroke-width="1.9" stroke-linejoin="round"/>
<path d="M321.4 356.4 L321.71 355.95 L322.02 355.23 L322.33 354.2 L322.64 353.17 L322.95 352.26 L323.26 351.37 L323.57 350.41 L323.88 349.24 L324.19 347.65 L324.5 345.53 L324.81 343.28 L325.12 341.29 L325.43 338.97 L325.61 336.98 L325.88 331.99 L326.15 324.97 L326.42 316.72 L326.69 308.85 L326.96 300.93 L327.23 296.11 L327.5 294.15 L327.77 296.11 L328.04 300.93 L328.31 308.85 L328.58 316.72 L328.85 324.97 L329.12 331.99 L329.39 336.98 L329.57 338.97 L329.88 341.29 L330.19 343.28 L330.5 345.53 L330.81 347.65 L331.12 349.24 L331.43 350.41 L331.74 351.37 L332.05 352.26 L332.36 353.17 L332.67 354.2 L332.98 355.23 L333.29 355.95 L333.6 356.4 Z" fill="url(#pg)" stroke="none"/>
<path d="M321.4 356.4 L321.71 355.95 L322.02 355.23 L322.33 354.2 L322.64 353.17 L322.95 352.26 L323.26 351.37 L323.57 350.41 L323.88 349.24 L324.19 347.65 L324.5 345.53 L324.81 343.28 L325.12 341.29 L325.43 338.97 L325.61 336.98 L325.88 331.99 L326.15 324.97 L326.42 316.72 L326.69 308.85 L326.96 300.93 L327.23 296.11 L327.5 294.15 L327.77 296.11 L328.04 300.93 L328.31 308.85 L328.58 316.72 L328.85 324.97 L329.12 331.99 L329.39 336.98 L329.57 338.97 L329.88 341.29 L330.19 343.28 L330.5 345.53 L330.81 347.65 L331.12 349.24 L331.43 350.41 L331.74 351.37 L332.05 352.26 L332.36 353.17 L332.67 354.2 L332.98 355.23 L333.29 355.95 L333.6 356.4" fill="none" stroke="#0000FF" stroke-width="1.9" stroke-linejoin="round"/>
<path d="M336.9 356.4 L337.21 355.95 L337.52 355.23 L337.83 354.2 L338.14 353.17 L338.45 352.26 L338.76 351.37 L339.07 350.41 L339.38 349.24 L339.69 347.65 L340 345.53 L340.31 343.28 L340.62 341.29 L340.93 338.97 L341.11 336.98 L341.38 331.99 L341.65 324.97 L341.92 316.72 L342.19 308.85 L342.46 300.93 L342.73 296.11 L343 294.15 L343.27 296.11 L343.54 300.93 L343.81 308.85 L344.08 316.72 L344.35 324.97 L344.62 331.99 L344.89 336.98 L345.07 338.97 L345.38 341.29 L345.69 343.28 L346 345.53 L346.31 347.65 L346.62 349.24 L346.93 350.41 L347.24 351.37 L347.55 352.26 L347.86 353.17 L348.17 354.2 L348.48 355.23 L348.79 355.95 L349.1 356.4 Z" fill="url(#pg)" stroke="none"/>
<path d="M336.9 356.4 L337.21 355.95 L337.52 355.23 L337.83 354.2 L338.14 353.17 L338.45 352.26 L338.76 351.37 L339.07 350.41 L339.38 349.24 L339.69 347.65 L340 345.53 L340.31 343.28 L340.62 341.29 L340.93 338.97 L341.11 336.98 L341.38 331.99 L341.65 324.97 L341.92 316.72 L342.19 308.85 L342.46 300.93 L342.73 296.11 L343 294.15 L343.27 296.11 L343.54 300.93 L343.81 308.85 L344.08 316.72 L344.35 324.97 L344.62 331.99 L344.89 336.98 L345.07 338.97 L345.38 341.29 L345.69 343.28 L346 345.53 L346.31 347.65 L346.62 349.24 L346.93 350.41 L347.24 351.37 L347.55 352.26 L347.86 353.17 L348.17 354.2 L348.48 355.23 L348.79 355.95 L349.1 356.4" fill="none" stroke="#0000FF" stroke-width="1.9" stroke-linejoin="round"/>
<path d="M352.4 356.4 L352.71 355.95 L353.02 355.23 L353.33 354.2 L353.64 353.17 L353.95 352.26 L354.26 351.37 L354.57 350.41 L354.88 349.24 L355.19 347.65 L355.5 345.53 L355.81 343.28 L356.12 341.29 L356.43 338.97 L356.61 336.98 L356.88 331.99 L357.15 324.97 L357.42 316.72 L357.69 308.85 L357.96 300.93 L358.23 296.11 L358.5 294.15 L358.77 296.11 L359.04 300.93 L359.31 308.85 L359.58 316.72 L359.85 324.97 L360.12 331.99 L360.39 336.98 L360.57 338.97 L360.88 341.29 L361.19 343.28 L361.5 345.53 L361.81 347.65 L362.12 349.24 L362.43 350.41 L362.74 351.37 L363.05 352.26 L363.36 353.17 L363.67 354.2 L363.98 355.23 L364.29 355.95 L364.6 356.4 Z" fill="url(#pg)" stroke="none"/>
<path d="M352.4 356.4 L352.71 355.95 L353.02 355.23 L353.33 354.2 L353.64 353.17 L353.95 352.26 L354.26 351.37 L354.57 350.41 L354.88 349.24 L355.19 347.65 L355.5 345.53 L355.81 343.28 L356.12 341.29 L356.43 338.97 L356.61 336.98 L356.88 331.99 L357.15 324.97 L357.42 316.72 L357.69 308.85 L357.96 300.93 L358.23 296.11 L358.5 294.15 L358.77 296.11 L359.04 300.93 L359.31 308.85 L359.58 316.72 L359.85 324.97 L360.12 331.99 L360.39 336.98 L360.57 338.97 L360.88 341.29 L361.19 343.28 L361.5 345.53 L361.81 347.65 L362.12 349.24 L362.43 350.41 L362.74 351.37 L363.05 352.26 L363.36 353.17 L363.67 354.2 L363.98 355.23 L364.29 355.95 L364.6 356.4" fill="none" stroke="#0000FF" stroke-width="1.9" stroke-linejoin="round"/>
<path d="M367.9 356.4 L368.21 355.95 L368.52 355.23 L368.83 354.2 L369.14 353.17 L369.45 352.26 L369.76 351.37 L370.07 350.41 L370.38 349.24 L370.69 347.65 L371 345.53 L371.31 343.28 L371.62 341.29 L371.93 338.97 L372.11 336.98 L372.38 331.99 L372.65 324.97 L372.92 316.72 L373.19 308.85 L373.46 300.93 L373.73 296.11 L374 294.15 L374.27 296.11 L374.54 300.93 L374.81 308.85 L375.08 316.72 L375.35 324.97 L375.62 331.99 L375.89 336.98 L376.07 338.97 L376.38 341.29 L376.69 343.28 L377 345.53 L377.31 347.65 L377.62 349.24 L377.93 350.41 L378.24 351.37 L378.55 352.26 L378.86 353.17 L379.17 354.2 L379.48 355.23 L379.79 355.95 L380.1 356.4 Z" fill="url(#pg)" stroke="none"/>
<path d="M367.9 356.4 L368.21 355.95 L368.52 355.23 L368.83 354.2 L369.14 353.17 L369.45 352.26 L369.76 351.37 L370.07 350.41 L370.38 349.24 L370.69 347.65 L371 345.53 L371.31 343.28 L371.62 341.29 L371.93 338.97 L372.11 336.98 L372.38 331.99 L372.65 324.97 L372.92 316.72 L373.19 308.85 L373.46 300.93 L373.73 296.11 L374 294.15 L374.27 296.11 L374.54 300.93 L374.81 308.85 L375.08 316.72 L375.35 324.97 L375.62 331.99 L375.89 336.98 L376.07 338.97 L376.38 341.29 L376.69 343.28 L377 345.53 L377.31 347.65 L377.62 349.24 L377.93 350.41 L378.24 351.37 L378.55 352.26 L378.86 353.17 L379.17 354.2 L379.48 355.23 L379.79 355.95 L380.1 356.4" fill="none" stroke="#0000FF" stroke-width="1.9" stroke-linejoin="round"/>
<path d="M383.4 356.4 L383.71 355.95 L384.02 355.23 L384.33 354.2 L384.64 353.17 L384.95 352.26 L385.26 351.37 L385.57 350.41 L385.88 349.24 L386.19 347.65 L386.5 345.53 L386.81 343.28 L387.12 341.29 L387.43 338.97 L387.61 336.98 L387.88 331.99 L388.15 324.97 L388.42 316.72 L388.69 308.85 L388.96 300.93 L389.23 296.11 L389.5 294.15 L389.77 296.11 L390.04 300.93 L390.31 308.85 L390.58 316.72 L390.85 324.97 L391.12 331.99 L391.39 336.98 L391.57 338.97 L391.88 341.29 L392.19 343.28 L392.5 345.53 L392.81 347.65 L393.12 349.24 L393.43 350.41 L393.74 351.37 L394.05 352.26 L394.36 353.17 L394.67 354.2 L394.98 355.23 L395.29 355.95 L395.6 356.4 Z" fill="url(#pg)" stroke="none"/>
<path d="M383.4 356.4 L383.71 355.95 L384.02 355.23 L384.33 354.2 L384.64 353.17 L384.95 352.26 L385.26 351.37 L385.57 350.41 L385.88 349.24 L386.19 347.65 L386.5 345.53 L386.81 343.28 L387.12 341.29 L387.43 338.97 L387.61 336.98 L387.88 331.99 L388.15 324.97 L388.42 316.72 L388.69 308.85 L388.96 300.93 L389.23 296.11 L389.5 294.15 L389.77 296.11 L390.04 300.93 L390.31 308.85 L390.58 316.72 L390.85 324.97 L391.12 331.99 L391.39 336.98 L391.57 338.97 L391.88 341.29 L392.19 343.28 L392.5 345.53 L392.81 347.65 L393.12 349.24 L393.43 350.41 L393.74 351.37 L394.05 352.26 L394.36 353.17 L394.67 354.2 L394.98 355.23 L395.29 355.95 L395.6 356.4" fill="none" stroke="#0000FF" stroke-width="1.9" stroke-linejoin="round"/>
<path d="M398.9 356.4 L399.21 355.95 L399.52 355.23 L399.83 354.2 L400.14 353.17 L400.45 352.26 L400.76 351.37 L401.07 350.41 L401.38 349.24 L401.69 347.65 L402 345.53 L402.31 343.28 L402.62 341.29 L402.93 338.97 L403.11 336.98 L403.38 331.99 L403.65 324.97 L403.92 316.72 L404.19 308.85 L404.46 300.93 L404.73 296.11 L405 294.15 L405.27 296.11 L405.54 300.93 L405.81 308.85 L406.08 316.72 L406.35 324.97 L406.62 331.99 L406.89 336.98 L407.07 338.97 L407.38 341.29 L407.69 343.28 L408 345.53 L408.31 347.65 L408.62 349.24 L408.93 350.41 L409.24 351.37 L409.55 352.26 L409.86 353.17 L410.17 354.2 L410.48 355.23 L410.79 355.95 L411.1 356.4 Z" fill="url(#pg)" stroke="none"/>
<path d="M398.9 356.4 L399.21 355.95 L399.52 355.23 L399.83 354.2 L400.14 353.17 L400.45 352.26 L400.76 351.37 L401.07 350.41 L401.38 349.24 L401.69 347.65 L402 345.53 L402.31 343.28 L402.62 341.29 L402.93 338.97 L403.11 336.98 L403.38 331.99 L403.65 324.97 L403.92 316.72 L404.19 308.85 L404.46 300.93 L404.73 296.11 L405 294.15 L405.27 296.11 L405.54 300.93 L405.81 308.85 L406.08 316.72 L406.35 324.97 L406.62 331.99 L406.89 336.98 L407.07 338.97 L407.38 341.29 L407.69 343.28 L408 345.53 L408.31 347.65 L408.62 349.24 L408.93 350.41 L409.24 351.37 L409.55 352.26 L409.86 353.17 L410.17 354.2 L410.48 355.23 L410.79 355.95 L411.1 356.4" fill="none" stroke="#0000FF" stroke-width="1.9" stroke-linejoin="round"/>
<path d="M414.4 356.4 L414.71 355.95 L415.02 355.23 L415.33 354.2 L415.64 353.17 L415.95 352.26 L416.26 351.37 L416.57 350.41 L416.88 349.24 L417.19 347.65 L417.5 345.53 L417.81 343.28 L418.12 341.29 L418.43 338.97 L418.61 336.98 L418.88 331.99 L419.15 324.97 L419.42 316.72 L419.69 308.85 L419.96 300.93 L420.23 296.11 L420.5 294.15 L420.77 296.11 L421.04 300.93 L421.31 308.85 L421.58 316.72 L421.85 324.97 L422.12 331.99 L422.39 336.98 L422.57 338.97 L422.88 341.29 L423.19 343.28 L423.5 345.53 L423.81 347.65 L424.12 349.24 L424.43 350.41 L424.74 351.37 L425.05 352.26 L425.36 353.17 L425.67 354.2 L425.98 355.23 L426.29 355.95 L426.6 356.4 Z" fill="url(#pg)" stroke="none"/>
<path d="M414.4 356.4 L414.71 355.95 L415.02 355.23 L415.33 354.2 L415.64 353.17 L415.95 352.26 L416.26 351.37 L416.57 350.41 L416.88 349.24 L417.19 347.65 L417.5 345.53 L417.81 343.28 L418.12 341.29 L418.43 338.97 L418.61 336.98 L418.88 331.99 L419.15 324.97 L419.42 316.72 L419.69 308.85 L419.96 300.93 L420.23 296.11 L420.5 294.15 L420.77 296.11 L421.04 300.93 L421.31 308.85 L421.58 316.72 L421.85 324.97 L422.12 331.99 L422.39 336.98 L422.57 338.97 L422.88 341.29 L423.19 343.28 L423.5 345.53 L423.81 347.65 L424.12 349.24 L424.43 350.41 L424.74 351.37 L425.05 352.26 L425.36 353.17 L425.67 354.2 L425.98 355.23 L426.29 355.95 L426.6 356.4" fill="none" stroke="#0000FF" stroke-width="1.9" stroke-linejoin="round"/>
<path d="M466.1 356.4 L466.41 355.95 L466.72 355.23 L467.03 354.2 L467.34 353.17 L467.65 352.26 L467.96 351.37 L468.27 350.41 L468.58 349.24 L468.89 347.65 L469.2 345.53 L469.51 343.28 L469.82 341.29 L470.13 338.97 L470.31 336.98 L470.58 331.99 L470.85 324.97 L471.12 316.72 L471.39 308.85 L471.66 300.93 L471.93 296.11 L472.2 294.15 L472.47 296.11 L472.74 300.93 L473.01 308.85 L473.28 316.72 L473.55 324.97 L473.82 331.99 L474.09 336.98 L474.27 338.97 L474.58 341.29 L474.89 343.28 L475.2 345.53 L475.51 347.65 L475.82 349.24 L476.13 350.41 L476.44 351.37 L476.75 352.26 L477.06 353.17 L477.37 354.2 L477.68 355.23 L477.99 355.95 L478.3 356.4 Z" fill="url(#pg)" stroke="none"/>
<path d="M466.1 356.4 L466.41 355.95 L466.72 355.23 L467.03 354.2 L467.34 353.17 L467.65 352.26 L467.96 351.37 L468.27 350.41 L468.58 349.24 L468.89 347.65 L469.2 345.53 L469.51 343.28 L469.82 341.29 L470.13 338.97 L470.31 336.98 L470.58 331.99 L470.85 324.97 L471.12 316.72 L471.39 308.85 L471.66 300.93 L471.93 296.11 L472.2 294.15 L472.47 296.11 L472.74 300.93 L473.01 308.85 L473.28 316.72 L473.55 324.97 L473.82 331.99 L474.09 336.98 L474.27 338.97 L474.58 341.29 L474.89 343.28 L475.2 345.53 L475.51 347.65 L475.82 349.24 L476.13 350.41 L476.44 351.37 L476.75 352.26 L477.06 353.17 L477.37 354.2 L477.68 355.23 L477.99 355.95 L478.3 356.4" fill="none" stroke="#0000FF" stroke-width="1.9" stroke-linejoin="round"/>
<path d="M481.6 356.4 L481.91 355.95 L482.22 355.23 L482.53 354.2 L482.84 353.17 L483.15 352.26 L483.46 351.37 L483.77 350.41 L484.08 349.24 L484.39 347.65 L484.7 345.53 L485.01 343.28 L485.32 341.29 L485.63 338.97 L485.81 336.98 L486.08 331.99 L486.35 324.97 L486.62 316.72 L486.89 308.85 L487.16 300.93 L487.43 296.11 L487.7 294.15 L487.97 296.11 L488.24 300.93 L488.51 308.85 L488.78 316.72 L489.05 324.97 L489.32 331.99 L489.59 336.98 L489.77 338.97 L490.08 341.29 L490.39 343.28 L490.7 345.53 L491.01 347.65 L491.32 349.24 L491.63 350.41 L491.94 351.37 L492.25 352.26 L492.56 353.17 L492.87 354.2 L493.18 355.23 L493.49 355.95 L493.8 356.4 Z" fill="url(#pg)" stroke="none"/>
<path d="M481.6 356.4 L481.91 355.95 L482.22 355.23 L482.53 354.2 L482.84 353.17 L483.15 352.26 L483.46 351.37 L483.77 350.41 L484.08 349.24 L484.39 347.65 L484.7 345.53 L485.01 343.28 L485.32 341.29 L485.63 338.97 L485.81 336.98 L486.08 331.99 L486.35 324.97 L486.62 316.72 L486.89 308.85 L487.16 300.93 L487.43 296.11 L487.7 294.15 L487.97 296.11 L488.24 300.93 L488.51 308.85 L488.78 316.72 L489.05 324.97 L489.32 331.99 L489.59 336.98 L489.77 338.97 L490.08 341.29 L490.39 343.28 L490.7 345.53 L491.01 347.65 L491.32 349.24 L491.63 350.41 L491.94 351.37 L492.25 352.26 L492.56 353.17 L492.87 354.2 L493.18 355.23 L493.49 355.95 L493.8 356.4" fill="none" stroke="#0000FF" stroke-width="1.9" stroke-linejoin="round"/>
<path d="M497.1 356.4 L497.41 355.95 L497.72 355.23 L498.03 354.2 L498.34 353.17 L498.65 352.26 L498.96 351.37 L499.27 350.41 L499.58 349.24 L499.89 347.65 L500.2 345.53 L500.51 343.28 L500.82 341.29 L501.13 338.97 L501.31 336.98 L501.58 331.99 L501.85 324.97 L502.12 316.72 L502.39 308.85 L502.66 300.93 L502.93 296.11 L503.2 294.15 L503.47 296.11 L503.74 300.93 L504.01 308.85 L504.28 316.72 L504.55 324.97 L504.82 331.99 L505.09 336.98 L505.27 338.97 L505.58 341.29 L505.89 343.28 L506.2 345.53 L506.51 347.65 L506.82 349.24 L507.13 350.41 L507.44 351.37 L507.75 352.26 L508.06 353.17 L508.37 354.2 L508.68 355.23 L508.99 355.95 L509.3 356.4 Z" fill="url(#pg)" stroke="none"/>
<path d="M497.1 356.4 L497.41 355.95 L497.72 355.23 L498.03 354.2 L498.34 353.17 L498.65 352.26 L498.96 351.37 L499.27 350.41 L499.58 349.24 L499.89 347.65 L500.2 345.53 L500.51 343.28 L500.82 341.29 L501.13 338.97 L501.31 336.98 L501.58 331.99 L501.85 324.97 L502.12 316.72 L502.39 308.85 L502.66 300.93 L502.93 296.11 L503.2 294.15 L503.47 296.11 L503.74 300.93 L504.01 308.85 L504.28 316.72 L504.55 324.97 L504.82 331.99 L505.09 336.98 L505.27 338.97 L505.58 341.29 L505.89 343.28 L506.2 345.53 L506.51 347.65 L506.82 349.24 L507.13 350.41 L507.44 351.37 L507.75 352.26 L508.06 353.17 L508.37 354.2 L508.68 355.23 L508.99 355.95 L509.3 356.4" fill="none" stroke="#0000FF" stroke-width="1.9" stroke-linejoin="round"/>
<path d="M512.6 356.4 L512.91 355.95 L513.22 355.23 L513.53 354.2 L513.84 353.17 L514.15 352.26 L514.46 351.37 L514.77 350.41 L515.08 349.24 L515.39 347.65 L515.7 345.53 L516.01 343.28 L516.32 341.29 L516.63 338.97 L516.81 336.98 L517.08 331.99 L517.35 324.97 L517.62 316.72 L517.89 308.85 L518.16 300.93 L518.43 296.11 L518.7 294.15 L518.97 296.11 L519.24 300.93 L519.51 308.85 L519.78 316.72 L520.05 324.97 L520.32 331.99 L520.59 336.98 L520.77 338.97 L521.08 341.29 L521.39 343.28 L521.7 345.53 L522.01 347.65 L522.32 349.24 L522.63 350.41 L522.94 351.37 L523.25 352.26 L523.56 353.17 L523.87 354.2 L524.18 355.23 L524.49 355.95 L524.8 356.4 Z" fill="url(#pg)" stroke="none"/>
<path d="M512.6 356.4 L512.91 355.95 L513.22 355.23 L513.53 354.2 L513.84 353.17 L514.15 352.26 L514.46 351.37 L514.77 350.41 L515.08 349.24 L515.39 347.65 L515.7 345.53 L516.01 343.28 L516.32 341.29 L516.63 338.97 L516.81 336.98 L517.08 331.99 L517.35 324.97 L517.62 316.72 L517.89 308.85 L518.16 300.93 L518.43 296.11 L518.7 294.15 L518.97 296.11 L519.24 300.93 L519.51 308.85 L519.78 316.72 L520.05 324.97 L520.32 331.99 L520.59 336.98 L520.77 338.97 L521.08 341.29 L521.39 343.28 L521.7 345.53 L522.01 347.65 L522.32 349.24 L522.63 350.41 L522.94 351.37 L523.25 352.26 L523.56 353.17 L523.87 354.2 L524.18 355.23 L524.49 355.95 L524.8 356.4" fill="none" stroke="#0000FF" stroke-width="1.9" stroke-linejoin="round"/>
<path d="M528.1 356.4 L528.41 355.95 L528.72 355.23 L529.03 354.2 L529.34 353.17 L529.65 352.26 L529.96 351.37 L530.27 350.41 L530.58 349.24 L530.89 347.65 L531.2 345.53 L531.51 343.28 L531.82 341.29 L532.13 338.97 L532.31 336.98 L532.58 331.99 L532.85 324.97 L533.12 316.72 L533.39 308.85 L533.66 300.93 L533.93 296.11 L534.2 294.15 L534.47 296.11 L534.74 300.93 L535.01 308.85 L535.28 316.72 L535.55 324.97 L535.82 331.99 L536.09 336.98 L536.27 338.97 L536.58 341.29 L536.89 343.28 L537.2 345.53 L537.51 347.65 L537.82 349.24 L538.13 350.41 L538.44 351.37 L538.75 352.26 L539.06 353.17 L539.37 354.2 L539.68 355.23 L539.99 355.95 L540.3 356.4 Z" fill="url(#pg)" stroke="none"/>
<path d="M528.1 356.4 L528.41 355.95 L528.72 355.23 L529.03 354.2 L529.34 353.17 L529.65 352.26 L529.96 351.37 L530.27 350.41 L530.58 349.24 L530.89 347.65 L531.2 345.53 L531.51 343.28 L531.82 341.29 L532.13 338.97 L532.31 336.98 L532.58 331.99 L532.85 324.97 L533.12 316.72 L533.39 308.85 L533.66 300.93 L533.93 296.11 L534.2 294.15 L534.47 296.11 L534.74 300.93 L535.01 308.85 L535.28 316.72 L535.55 324.97 L535.82 331.99 L536.09 336.98 L536.27 338.97 L536.58 341.29 L536.89 343.28 L537.2 345.53 L537.51 347.65 L537.82 349.24 L538.13 350.41 L538.44 351.37 L538.75 352.26 L539.06 353.17 L539.37 354.2 L539.68 355.23 L539.99 355.95 L540.3 356.4" fill="none" stroke="#0000FF" stroke-width="1.9" stroke-linejoin="round"/>
<path d="M543.6 356.4 L543.91 355.95 L544.22 355.23 L544.53 354.2 L544.84 353.17 L545.15 352.26 L545.46 351.37 L545.77 350.41 L546.08 349.24 L546.39 347.65 L546.7 345.53 L547.01 343.28 L547.32 341.29 L547.63 338.97 L547.81 336.98 L548.08 331.99 L548.35 324.97 L548.62 316.72 L548.89 308.85 L549.16 300.93 L549.43 296.11 L549.7 294.15 L549.97 296.11 L550.24 300.93 L550.51 308.85 L550.78 316.72 L551.05 324.97 L551.32 331.99 L551.59 336.98 L551.77 338.97 L552.08 341.29 L552.39 343.28 L552.7 345.53 L553.01 347.65 L553.32 349.24 L553.63 350.41 L553.94 351.37 L554.25 352.26 L554.56 353.17 L554.87 354.2 L555.18 355.23 L555.49 355.95 L555.8 356.4 Z" fill="url(#pg)" stroke="none"/>
<path d="M543.6 356.4 L543.91 355.95 L544.22 355.23 L544.53 354.2 L544.84 353.17 L545.15 352.26 L545.46 351.37 L545.77 350.41 L546.08 349.24 L546.39 347.65 L546.7 345.53 L547.01 343.28 L547.32 341.29 L547.63 338.97 L547.81 336.98 L548.08 331.99 L548.35 324.97 L548.62 316.72 L548.89 308.85 L549.16 300.93 L549.43 296.11 L549.7 294.15 L549.97 296.11 L550.24 300.93 L550.51 308.85 L550.78 316.72 L551.05 324.97 L551.32 331.99 L551.59 336.98 L551.77 338.97 L552.08 341.29 L552.39 343.28 L552.7 345.53 L553.01 347.65 L553.32 349.24 L553.63 350.41 L553.94 351.37 L554.25 352.26 L554.56 353.17 L554.87 354.2 L555.18 355.23 L555.49 355.95 L555.8 356.4" fill="none" stroke="#0000FF" stroke-width="1.9" stroke-linejoin="round"/>
<path d="M559.1 356.4 L559.41 355.95 L559.72 355.23 L560.03 354.2 L560.34 353.17 L560.65 352.26 L560.96 351.37 L561.27 350.41 L561.58 349.24 L561.89 347.65 L562.2 345.53 L562.51 343.28 L562.82 341.29 L563.13 338.97 L563.31 336.98 L563.58 331.99 L563.85 324.97 L564.12 316.72 L564.39 308.85 L564.66 300.93 L564.93 296.11 L565.2 294.15 L565.47 296.11 L565.74 300.93 L566.01 308.85 L566.28 316.72 L566.55 324.97 L566.82 331.99 L567.09 336.98 L567.27 338.97 L567.58 341.29 L567.89 343.28 L568.2 345.53 L568.51 347.65 L568.82 349.24 L569.13 350.41 L569.44 351.37 L569.75 352.26 L570.06 353.17 L570.37 354.2 L570.68 355.23 L570.99 355.95 L571.3 356.4 Z" fill="url(#pg)" stroke="none"/>
<path d="M559.1 356.4 L559.41 355.95 L559.72 355.23 L560.03 354.2 L560.34 353.17 L560.65 352.26 L560.96 351.37 L561.27 350.41 L561.58 349.24 L561.89 347.65 L562.2 345.53 L562.51 343.28 L562.82 341.29 L563.13 338.97 L563.31 336.98 L563.58 331.99 L563.85 324.97 L564.12 316.72 L564.39 308.85 L564.66 300.93 L564.93 296.11 L565.2 294.15 L565.47 296.11 L565.74 300.93 L566.01 308.85 L566.28 316.72 L566.55 324.97 L566.82 331.99 L567.09 336.98 L567.27 338.97 L567.58 341.29 L567.89 343.28 L568.2 345.53 L568.51 347.65 L568.82 349.24 L569.13 350.41 L569.44 351.37 L569.75 352.26 L570.06 353.17 L570.37 354.2 L570.68 355.23 L570.99 355.95 L571.3 356.4" fill="none" stroke="#0000FF" stroke-width="1.9" stroke-linejoin="round"/>
<path d="M574.6 356.4 L574.91 355.95 L575.22 355.23 L575.53 354.2 L575.84 353.17 L576.15 352.26 L576.46 351.37 L576.77 350.41 L577.08 349.24 L577.39 347.65 L577.7 345.53 L578.01 343.28 L578.32 341.29 L578.63 338.97 L578.81 336.98 L579.08 331.99 L579.35 324.97 L579.62 316.72 L579.89 308.85 L580.16 300.93 L580.43 296.11 L580.7 294.15 L580.97 296.11 L581.24 300.93 L581.51 308.85 L581.78 316.72 L582.05 324.97 L582.32 331.99 L582.59 336.98 L582.77 338.97 L583.08 341.29 L583.39 343.28 L583.7 345.53 L584.01 347.65 L584.32 349.24 L584.63 350.41 L584.94 351.37 L585.25 352.26 L585.56 353.17 L585.87 354.2 L586.18 355.23 L586.49 355.95 L586.8 356.4 Z" fill="url(#pg)" stroke="none"/>
<path d="M574.6 356.4 L574.91 355.95 L575.22 355.23 L575.53 354.2 L575.84 353.17 L576.15 352.26 L576.46 351.37 L576.77 350.41 L577.08 349.24 L577.39 347.65 L577.7 345.53 L578.01 343.28 L578.32 341.29 L578.63 338.97 L578.81 336.98 L579.08 331.99 L579.35 324.97 L579.62 316.72 L579.89 308.85 L580.16 300.93 L580.43 296.11 L580.7 294.15 L580.97 296.11 L581.24 300.93 L581.51 308.85 L581.78 316.72 L582.05 324.97 L582.32 331.99 L582.59 336.98 L582.77 338.97 L583.08 341.29 L583.39 343.28 L583.7 345.53 L584.01 347.65 L584.32 349.24 L584.63 350.41 L584.94 351.37 L585.25 352.26 L585.56 353.17 L585.87 354.2 L586.18 355.23 L586.49 355.95 L586.8 356.4" fill="none" stroke="#0000FF" stroke-width="1.9" stroke-linejoin="round"/>
<path d="M590.1 356.4 L590.41 355.95 L590.72 355.23 L591.03 354.2 L591.34 353.17 L591.65 352.26 L591.96 351.37 L592.27 350.41 L592.58 349.24 L592.89 347.65 L593.2 345.53 L593.51 343.28 L593.82 341.29 L594.13 338.97 L594.31 336.98 L594.58 331.99 L594.85 324.97 L595.12 316.72 L595.39 308.85 L595.66 300.93 L595.93 296.11 L596.2 294.15 L596.47 296.11 L596.74 300.93 L597.01 308.85 L597.28 316.72 L597.55 324.97 L597.82 331.99 L598.09 336.98 L598.27 338.97 L598.58 341.29 L598.89 343.28 L599.2 345.53 L599.51 347.65 L599.82 349.24 L600.13 350.41 L600.44 351.37 L600.75 352.26 L601.06 353.17 L601.37 354.2 L601.68 355.23 L601.99 355.95 L602.3 356.4 Z" fill="url(#pg)" stroke="none"/>
<path d="M590.1 356.4 L590.41 355.95 L590.72 355.23 L591.03 354.2 L591.34 353.17 L591.65 352.26 L591.96 351.37 L592.27 350.41 L592.58 349.24 L592.89 347.65 L593.2 345.53 L593.51 343.28 L593.82 341.29 L594.13 338.97 L594.31 336.98 L594.58 331.99 L594.85 324.97 L595.12 316.72 L595.39 308.85 L595.66 300.93 L595.93 296.11 L596.2 294.15 L596.47 296.11 L596.74 300.93 L597.01 308.85 L597.28 316.72 L597.55 324.97 L597.82 331.99 L598.09 336.98 L598.27 338.97 L598.58 341.29 L598.89 343.28 L599.2 345.53 L599.51 347.65 L599.82 349.24 L600.13 350.41 L600.44 351.37 L600.75 352.26 L601.06 353.17 L601.37 354.2 L601.68 355.23 L601.99 355.95 L602.3 356.4" fill="none" stroke="#0000FF" stroke-width="1.9" stroke-linejoin="round"/>
<path d="M291.6 356.5 V298.1 A3.8 3.8 0 0 1 295.4 294.3 H423.9 A3.8 3.8 0 0 1 427.7 298.1 V356.5" fill="none" stroke="#FF00FF" stroke-width="1.65" stroke-dasharray="1.6 2.05"/>
<path d="M467.3 356.5 V298.1 A3.8 3.8 0 0 1 471.1 294.3 H599.3 A3.8 3.8 0 0 1 603.1 298.1 V356.5" fill="none" stroke="#FF00FF" stroke-width="1.65" stroke-dasharray="1.6 2.05"/>
<path d="M262.8 276.5 L262.8 357.4 L646.2 357.4" fill="none" stroke="#000" stroke-width="1.9" stroke-linejoin="miter"/>
<path d="M262.8 272.5 l-2.9 5.7 h5.8 Z" fill="#000"/>
<path d="M650.2 357.4 l-5.7 -2.9 v5.8 Z" fill="#000"/>
<text x="253.9" y="334" transform="rotate(-90 253.9 334)">Intensity</text>
<text x="267" y="307.8"><tspan font-weight="bold" font-style="italic" font-size="10.5">g</tspan><tspan font-weight="bold" font-size="8.2" dy="2.4">0</tspan></text>
<path d="M280.4 305.1 L283.2 305.1" stroke="#000" stroke-width="1.5" fill="none"/>
<path d="M286.2 305.1 L282.7 307.3 L282.7 302.9 Z" fill="#000"/>
<path d="M288.4 296.6 L288.4 301.8" stroke="#000" stroke-width="1.5" fill="none"/>
<path d="M288.4 304.8 L286.2 301.3 L290.6 301.3 Z" fill="#000"/>
<path d="M288.4 342.8 L288.4 339.2" stroke="#000" stroke-width="1.5" fill="none"/>
<path d="M288.4 336.2 L290.6 339.7 L286.2 339.7 Z" fill="#000"/>
<text x="278.2" y="349"><tspan font-weight="bold" font-style="italic" font-size="10.5">g</tspan><tspan font-weight="bold" font-style="italic" font-size="7.4" dy="2.2">d</tspan></text>
<text x="270.48" y="323.94" font-size="13.8" font-weight="bold">...</text>
<text x="454.8" y="291.2"><tspan font-weight="bold" font-style="italic" font-size="10.5">g</tspan><tspan font-weight="bold" font-style="italic" font-size="7.4" dy="2.2">r</tspan></text>
<path d="M458.6 295.8 L458.6 301.8" stroke="#000" stroke-width="1.5" fill="none"/>
<path d="M458.6 304.8 L456.4 301.3 L460.8 301.3 Z" fill="#000"/>
<path d="M458.6 343.4 L458.6 339.2" stroke="#000" stroke-width="1.5" fill="none"/>
<path d="M458.6 336.2 L460.8 339.7 L456.4 339.7 Z" fill="#000"/>
<text x="621.88" y="323.84" font-size="13.8" font-weight="bold">...</text>
<text x="629.3" y="375.4">Time</text>
<circle cx="297.4" cy="388.7" r="4.1" fill="url(#ball)" stroke="#1fa851" stroke-width="0.7"/>
<circle cx="312.4" cy="388.7" r="4.1" fill="url(#ball)" stroke="#1fa851" stroke-width="0.7"/>
<circle cx="328" cy="388.7" r="4.1" fill="url(#ball)" stroke="#1fa851" stroke-width="0.7"/>
<circle cx="343.3" cy="388.7" r="4.1" fill="url(#ball)" stroke="#1fa851" stroke-width="0.7"/>
<circle cx="358.9" cy="388.7" r="4.1" fill="url(#ball)" stroke="#1fa851" stroke-width="0.7"/>
<circle cx="374.3" cy="388.7" r="4.1" fill="url(#ball)" stroke="#1fa851" stroke-width="0.7"/>
<circle cx="390.8" cy="388.7" r="4.1" fill="url(#ball)" stroke="#1fa851" stroke-width="0.7"/>
<circle cx="405.8" cy="388.7" r="4.1" fill="url(#ball)" stroke="#1fa851" stroke-width="0.7"/>
<circle cx="421.7" cy="388.7" r="4.1" fill="url(#ball)" stroke="#1fa851" stroke-width="0.7"/>
<circle cx="436.5" cy="388.7" r="4.1" fill="url(#ball)" stroke="#1fa851" stroke-width="0.7"/>
<circle cx="452.1" cy="388.7" r="4.1" fill="url(#ball)" stroke="#1fa851" stroke-width="0.7"/>
<circle cx="468" cy="388.7" r="4.1" fill="url(#ball)" stroke="#1fa851" stroke-width="0.7"/>
<circle cx="483.1" cy="388.7" r="4.1" fill="url(#ball)" stroke="#1fa851" stroke-width="0.7"/>
<circle cx="498.6" cy="388.7" r="4.1" fill="url(#ball)" stroke="#1fa851" stroke-width="0.7"/>
<circle cx="513.6" cy="388.7" r="4.1" fill="url(#ball)" stroke="#1fa851" stroke-width="0.7"/>
<circle cx="529.9" cy="388.7" r="4.1" fill="url(#ball)" stroke="#1fa851" stroke-width="0.7"/>
<circle cx="544.9" cy="388.7" r="4.1" fill="url(#ball)" stroke="#1fa851" stroke-width="0.7"/>
<circle cx="561.2" cy="388.7" r="4.1" fill="url(#ball)" stroke="#1fa851" stroke-width="0.7"/>
<circle cx="576.4" cy="388.7" r="4.1" fill="url(#ball)" stroke="#1fa851" stroke-width="0.7"/>
<circle cx="592.4" cy="388.7" r="4.1" fill="url(#ball)" stroke="#1fa851" stroke-width="0.7"/>
<text x="318.5" y="380.6" fill="#00B050">Independent solitons with GHz fundamental repetition rate</text>
<path d="M265.2 398.3 L640 398.3" stroke="#00B050" stroke-width="1.8" stroke-dasharray="1.7 2.0" fill="none"/>
<path d="M290.4 419.3 L302.9 431.8 L306.5 419.1 L318.5 431.8 L322.08 419.1 L334.09 431.8 L337.66 419.1 L349.69 431.8 L353.24 419.1 L365.28 431.8 L368.82 419.1 L380.88 431.8 L384.4 419.1 L396.47 431.8 L399.98 419.1 L412.06 431.8 L415.56 419.1 L427.66 431.8 L431.14 419.1 L443.25 431.8 L446.72 419.1 L458.85 431.8 L462.3 419.1 L474.44 431.8 L477.88 419.1 L490.04 431.8 L493.46 419.1 L505.63 431.8 L509.04 419.1 L521.23 431.8 L524.62 419.1 L536.83 431.8 L540.2 419.1 L552.42 431.8 L555.78 419.1 L568.01 431.8 L571.36 419.1 L583.61 431.8 L586.94 419.1 L599.2 431.8 L603.8 423.6" fill="none" stroke="#FF0000" stroke-width="2.4" stroke-linejoin="round" stroke-linecap="butt"/>
<path d="M285.3 418.3 L612.7 418.3" stroke="#000" stroke-width="1.1" stroke-dasharray="2.75 1.05" fill="none"/>
<path d="M290.4 460.3 L290.71 459.85 L291.02 459.12 L291.33 458.1 L291.64 457.06 L291.95 456.15 L292.26 455.27 L292.57 454.3 L292.88 453.13 L293.19 451.54 L293.5 449.41 L293.81 447.16 L294.12 445.16 L294.43 442.84 L294.61 440.85 L294.88 435.85 L295.15 428.82 L295.42 420.56 L295.69 412.67 L295.96 404.74 L296.23 399.91 L296.5 397.94 L296.77 399.91 L297.04 404.74 L297.31 412.67 L297.58 420.56 L297.85 428.82 L298.12 435.85 L298.39 440.85 L298.57 442.84 L298.88 445.16 L299.19 447.16 L299.5 449.41 L299.81 451.54 L300.12 453.13 L300.43 454.3 L300.74 455.27 L301.05 456.15 L301.36 457.06 L301.67 458.1 L301.98 459.12 L302.29 459.85 L302.6 460.3 Z" fill="url(#pg)" stroke="none"/>
<path d="M290.4 460.3 L290.71 459.85 L291.02 459.12 L291.33 458.1 L291.64 457.06 L291.95 456.15 L292.26 455.27 L292.57 454.3 L292.88 453.13 L293.19 451.54 L293.5 449.41 L293.81 447.16 L294.12 445.16 L294.43 442.84 L294.61 440.85 L294.88 435.85 L295.15 428.82 L295.42 420.56 L295.69 412.67 L295.96 404.74 L296.23 399.91 L296.5 397.94 L296.77 399.91 L297.04 404.74 L297.31 412.67 L297.58 420.56 L297.85 428.82 L298.12 435.85 L298.39 440.85 L298.57 442.84 L298.88 445.16 L299.19 447.16 L299.5 449.41 L299.81 451.54 L300.12 453.13 L300.43 454.3 L300.74 455.27 L301.05 456.15 L301.36 457.06 L301.67 458.1 L301.98 459.12 L302.29 459.85 L302.6 460.3" fill="none" stroke="#0000FF" stroke-width="1.9" stroke-linejoin="round"/>
<path d="M305.96 460.3 L306.27 459.85 L306.58 459.12 L306.89 458.1 L307.2 457.06 L307.51 456.15 L307.82 455.27 L308.13 454.3 L308.44 453.13 L308.75 451.54 L309.05 449.41 L309.36 447.16 L309.67 445.16 L309.98 442.84 L310.17 440.85 L310.44 435.85 L310.71 428.82 L310.98 420.56 L311.25 412.67 L311.52 404.74 L311.79 399.91 L312.06 397.94 L312.33 399.91 L312.6 404.74 L312.87 412.67 L313.14 420.56 L313.41 428.82 L313.68 435.85 L313.95 440.85 L314.13 442.84 L314.44 445.16 L314.75 447.16 L315.06 449.41 L315.37 451.54 L315.68 453.13 L315.99 454.3 L316.3 455.27 L316.61 456.15 L316.92 457.06 L317.23 458.1 L317.54 459.12 L317.85 459.85 L318.16 460.3 Z" fill="url(#pg)" stroke="none"/>
<path d="M305.96 460.3 L306.27 459.85 L306.58 459.12 L306.89 458.1 L307.2 457.06 L307.51 456.15 L307.82 455.27 L308.13 454.3 L308.44 453.13 L308.75 451.54 L309.05 449.41 L309.36 447.16 L309.67 445.16 L309.98 442.84 L310.17 440.85 L310.44 435.85 L310.71 428.82 L310.98 420.56 L311.25 412.67 L311.52 404.74 L311.79 399.91 L312.06 397.94 L312.33 399.91 L312.6 404.74 L312.87 412.67 L313.14 420.56 L313.41 428.82 L313.68 435.85 L313.95 440.85 L314.13 442.84 L314.44 445.16 L314.75 447.16 L315.06 449.41 L315.37 451.54 L315.68 453.13 L315.99 454.3 L316.3 455.27 L316.61 456.15 L316.92 457.06 L317.23 458.1 L317.54 459.12 L317.85 459.85 L318.16 460.3" fill="none" stroke="#0000FF" stroke-width="1.9" stroke-linejoin="round"/>
<path d="M321.52 460.3 L321.83 459.85 L322.14 459.12 L322.44 458.1 L322.75 457.06 L323.06 456.15 L323.37 455.27 L323.68 454.3 L323.99 453.13 L324.3 451.54 L324.61 449.41 L324.92 447.16 L325.23 445.16 L325.54 442.84 L325.72 440.85 L325.99 435.85 L326.27 428.82 L326.54 420.56 L326.81 412.67 L327.08 404.74 L327.35 399.91 L327.62 397.94 L327.89 399.91 L328.16 404.74 L328.43 412.67 L328.7 420.56 L328.97 428.82 L329.24 435.85 L329.51 440.85 L329.69 442.84 L330 445.16 L330.31 447.16 L330.62 449.41 L330.93 451.54 L331.24 453.13 L331.55 454.3 L331.86 455.27 L332.17 456.15 L332.48 457.06 L332.79 458.1 L333.1 459.12 L333.41 459.85 L333.72 460.3 Z" fill="url(#pg)" stroke="none"/>
<path d="M321.52 460.3 L321.83 459.85 L322.14 459.12 L322.44 458.1 L322.75 457.06 L323.06 456.15 L323.37 455.27 L323.68 454.3 L323.99 453.13 L324.3 451.54 L324.61 449.41 L324.92 447.16 L325.23 445.16 L325.54 442.84 L325.72 440.85 L325.99 435.85 L326.27 428.82 L326.54 420.56 L326.81 412.67 L327.08 404.74 L327.35 399.91 L327.62 397.94 L327.89 399.91 L328.16 404.74 L328.43 412.67 L328.7 420.56 L328.97 428.82 L329.24 435.85 L329.51 440.85 L329.69 442.84 L330 445.16 L330.31 447.16 L330.62 449.41 L330.93 451.54 L331.24 453.13 L331.55 454.3 L331.86 455.27 L332.17 456.15 L332.48 457.06 L332.79 458.1 L333.1 459.12 L333.41 459.85 L333.72 460.3" fill="none" stroke="#0000FF" stroke-width="1.9" stroke-linejoin="round"/>
<path d="M337.07 460.3 L337.38 459.85 L337.69 459.12 L338 458.1 L338.31 457.06 L338.62 456.15 L338.93 455.27 L339.24 454.3 L339.55 453.13 L339.86 451.54 L340.17 449.41 L340.48 447.16 L340.79 445.16 L341.1 442.84 L341.28 440.85 L341.55 435.85 L341.82 428.82 L342.09 420.56 L342.36 412.67 L342.63 404.74 L342.9 399.91 L343.17 397.94 L343.44 399.91 L343.71 404.74 L343.98 412.67 L344.25 420.56 L344.52 428.82 L344.79 435.85 L345.06 440.85 L345.25 442.84 L345.56 445.16 L345.87 447.16 L346.18 449.41 L346.49 451.54 L346.8 453.13 L347.11 454.3 L347.42 455.27 L347.73 456.15 L348.03 457.06 L348.34 458.1 L348.65 459.12 L348.96 459.85 L349.27 460.3 Z" fill="url(#pg)" stroke="none"/>
<path d="M337.07 460.3 L337.38 459.85 L337.69 459.12 L338 458.1 L338.31 457.06 L338.62 456.15 L338.93 455.27 L339.24 454.3 L339.55 453.13 L339.86 451.54 L340.17 449.41 L340.48 447.16 L340.79 445.16 L341.1 442.84 L341.28 440.85 L341.55 435.85 L341.82 428.82 L342.09 420.56 L342.36 412.67 L342.63 404.74 L342.9 399.91 L343.17 397.94 L343.44 399.91 L343.71 404.74 L343.98 412.67 L344.25 420.56 L344.52 428.82 L344.79 435.85 L345.06 440.85 L345.25 442.84 L345.56 445.16 L345.87 447.16 L346.18 449.41 L346.49 451.54 L346.8 453.13 L347.11 454.3 L347.42 455.27 L347.73 456.15 L348.03 457.06 L348.34 458.1 L348.65 459.12 L348.96 459.85 L349.27 460.3" fill="none" stroke="#0000FF" stroke-width="1.9" stroke-linejoin="round"/>
<path d="M352.63 460.3 L352.94 459.85 L353.25 459.12 L353.56 458.1 L353.87 457.06 L354.18 456.15 L354.49 455.27 L354.8 454.3 L355.11 453.13 L355.42 451.54 L355.73 449.41 L356.04 447.16 L356.35 445.16 L356.66 442.84 L356.84 440.85 L357.11 435.85 L357.38 428.82 L357.65 420.56 L357.92 412.67 L358.19 404.74 L358.46 399.91 L358.73 397.94 L359 399.91 L359.27 404.74 L359.54 412.67 L359.81 420.56 L360.08 428.82 L360.35 435.85 L360.62 440.85 L360.81 442.84 L361.12 445.16 L361.42 447.16 L361.73 449.41 L362.04 451.54 L362.35 453.13 L362.66 454.3 L362.97 455.27 L363.28 456.15 L363.59 457.06 L363.9 458.1 L364.21 459.12 L364.52 459.85 L364.83 460.3 Z" fill="url(#pg)" stroke="none"/>
<path d="M352.63 460.3 L352.94 459.85 L353.25 459.12 L353.56 458.1 L353.87 457.06 L354.18 456.15 L354.49 455.27 L354.8 454.3 L355.11 453.13 L355.42 451.54 L355.73 449.41 L356.04 447.16 L356.35 445.16 L356.66 442.84 L356.84 440.85 L357.11 435.85 L357.38 428.82 L357.65 420.56 L357.92 412.67 L358.19 404.74 L358.46 399.91 L358.73 397.94 L359 399.91 L359.27 404.74 L359.54 412.67 L359.81 420.56 L360.08 428.82 L360.35 435.85 L360.62 440.85 L360.81 442.84 L361.12 445.16 L361.42 447.16 L361.73 449.41 L362.04 451.54 L362.35 453.13 L362.66 454.3 L362.97 455.27 L363.28 456.15 L363.59 457.06 L363.9 458.1 L364.21 459.12 L364.52 459.85 L364.83 460.3" fill="none" stroke="#0000FF" stroke-width="1.9" stroke-linejoin="round"/>
<path d="M368.19 460.3 L368.5 459.85 L368.81 459.12 L369.12 458.1 L369.43 457.06 L369.74 456.15 L370.05 455.27 L370.36 454.3 L370.67 453.13 L370.98 451.54 L371.29 449.41 L371.6 447.16 L371.91 445.16 L372.22 442.84 L372.4 440.85 L372.67 435.85 L372.94 428.82 L373.21 420.56 L373.48 412.67 L373.75 404.74 L374.02 399.91 L374.29 397.94 L374.56 399.91 L374.83 404.74 L375.1 412.67 L375.37 420.56 L375.64 428.82 L375.91 435.85 L376.18 440.85 L376.36 442.84 L376.67 445.16 L376.98 447.16 L377.29 449.41 L377.6 451.54 L377.91 453.13 L378.22 454.3 L378.53 455.27 L378.84 456.15 L379.15 457.06 L379.46 458.1 L379.77 459.12 L380.08 459.85 L380.39 460.3 Z" fill="url(#pg)" stroke="none"/>
<path d="M368.19 460.3 L368.5 459.85 L368.81 459.12 L369.12 458.1 L369.43 457.06 L369.74 456.15 L370.05 455.27 L370.36 454.3 L370.67 453.13 L370.98 451.54 L371.29 449.41 L371.6 447.16 L371.91 445.16 L372.22 442.84 L372.4 440.85 L372.67 435.85 L372.94 428.82 L373.21 420.56 L373.48 412.67 L373.75 404.74 L374.02 399.91 L374.29 397.94 L374.56 399.91 L374.83 404.74 L375.1 412.67 L375.37 420.56 L375.64 428.82 L375.91 435.85 L376.18 440.85 L376.36 442.84 L376.67 445.16 L376.98 447.16 L377.29 449.41 L377.6 451.54 L377.91 453.13 L378.22 454.3 L378.53 455.27 L378.84 456.15 L379.15 457.06 L379.46 458.1 L379.77 459.12 L380.08 459.85 L380.39 460.3" fill="none" stroke="#0000FF" stroke-width="1.9" stroke-linejoin="round"/>
<path d="M383.75 460.3 L384.06 459.85 L384.37 459.12 L384.68 458.1 L384.99 457.06 L385.3 456.15 L385.61 455.27 L385.92 454.3 L386.22 453.13 L386.53 451.54 L386.84 449.41 L387.15 447.16 L387.46 445.16 L387.77 442.84 L387.96 440.85 L388.23 435.85 L388.5 428.82 L388.77 420.56 L389.04 412.67 L389.31 404.74 L389.58 399.91 L389.85 397.94 L390.12 399.91 L390.39 404.74 L390.66 412.67 L390.93 420.56 L391.2 428.82 L391.47 435.85 L391.74 440.85 L391.92 442.84 L392.23 445.16 L392.54 447.16 L392.85 449.41 L393.16 451.54 L393.47 453.13 L393.78 454.3 L394.09 455.27 L394.4 456.15 L394.71 457.06 L395.02 458.1 L395.33 459.12 L395.64 459.85 L395.95 460.3 Z" fill="url(#pg)" stroke="none"/>
<path d="M383.75 460.3 L384.06 459.85 L384.37 459.12 L384.68 458.1 L384.99 457.06 L385.3 456.15 L385.61 455.27 L385.92 454.3 L386.22 453.13 L386.53 451.54 L386.84 449.41 L387.15 447.16 L387.46 445.16 L387.77 442.84 L387.96 440.85 L388.23 435.85 L388.5 428.82 L388.77 420.56 L389.04 412.67 L389.31 404.74 L389.58 399.91 L389.85 397.94 L390.12 399.91 L390.39 404.74 L390.66 412.67 L390.93 420.56 L391.2 428.82 L391.47 435.85 L391.74 440.85 L391.92 442.84 L392.23 445.16 L392.54 447.16 L392.85 449.41 L393.16 451.54 L393.47 453.13 L393.78 454.3 L394.09 455.27 L394.4 456.15 L394.71 457.06 L395.02 458.1 L395.33 459.12 L395.64 459.85 L395.95 460.3" fill="none" stroke="#0000FF" stroke-width="1.9" stroke-linejoin="round"/>
<path d="M399.31 460.3 L399.61 459.85 L399.92 459.12 L400.23 458.1 L400.54 457.06 L400.85 456.15 L401.16 455.27 L401.47 454.3 L401.78 453.13 L402.09 451.54 L402.4 449.41 L402.71 447.16 L403.02 445.16 L403.33 442.84 L403.51 440.85 L403.78 435.85 L404.05 428.82 L404.32 420.56 L404.59 412.67 L404.86 404.74 L405.14 399.91 L405.41 397.94 L405.68 399.91 L405.95 404.74 L406.22 412.67 L406.49 420.56 L406.76 428.82 L407.03 435.85 L407.3 440.85 L407.48 442.84 L407.79 445.16 L408.1 447.16 L408.41 449.41 L408.72 451.54 L409.03 453.13 L409.34 454.3 L409.65 455.27 L409.96 456.15 L410.27 457.06 L410.58 458.1 L410.89 459.12 L411.2 459.85 L411.51 460.3 Z" fill="url(#pg)" stroke="none"/>
<path d="M399.31 460.3 L399.61 459.85 L399.92 459.12 L400.23 458.1 L400.54 457.06 L400.85 456.15 L401.16 455.27 L401.47 454.3 L401.78 453.13 L402.09 451.54 L402.4 449.41 L402.71 447.16 L403.02 445.16 L403.33 442.84 L403.51 440.85 L403.78 435.85 L404.05 428.82 L404.32 420.56 L404.59 412.67 L404.86 404.74 L405.14 399.91 L405.41 397.94 L405.68 399.91 L405.95 404.74 L406.22 412.67 L406.49 420.56 L406.76 428.82 L407.03 435.85 L407.3 440.85 L407.48 442.84 L407.79 445.16 L408.1 447.16 L408.41 449.41 L408.72 451.54 L409.03 453.13 L409.34 454.3 L409.65 455.27 L409.96 456.15 L410.27 457.06 L410.58 458.1 L410.89 459.12 L411.2 459.85 L411.51 460.3" fill="none" stroke="#0000FF" stroke-width="1.9" stroke-linejoin="round"/>
<path d="M414.86 460.3 L415.17 459.85 L415.48 459.12 L415.79 458.1 L416.1 457.06 L416.41 456.15 L416.72 455.27 L417.03 454.3 L417.34 453.13 L417.65 451.54 L417.96 449.41 L418.27 447.16 L418.58 445.16 L418.89 442.84 L419.07 440.85 L419.34 435.85 L419.61 428.82 L419.88 420.56 L420.15 412.67 L420.42 404.74 L420.69 399.91 L420.96 397.94 L421.23 399.91 L421.5 404.74 L421.77 412.67 L422.04 420.56 L422.31 428.82 L422.58 435.85 L422.85 440.85 L423.04 442.84 L423.35 445.16 L423.66 447.16 L423.97 449.41 L424.28 451.54 L424.59 453.13 L424.9 454.3 L425.21 455.27 L425.51 456.15 L425.82 457.06 L426.13 458.1 L426.44 459.12 L426.75 459.85 L427.06 460.3 Z" fill="url(#pg)" stroke="none"/>
<path d="M414.86 460.3 L415.17 459.85 L415.48 459.12 L415.79 458.1 L416.1 457.06 L416.41 456.15 L416.72 455.27 L417.03 454.3 L417.34 453.13 L417.65 451.54 L417.96 449.41 L418.27 447.16 L418.58 445.16 L418.89 442.84 L419.07 440.85 L419.34 435.85 L419.61 428.82 L419.88 420.56 L420.15 412.67 L420.42 404.74 L420.69 399.91 L420.96 397.94 L421.23 399.91 L421.5 404.74 L421.77 412.67 L422.04 420.56 L422.31 428.82 L422.58 435.85 L422.85 440.85 L423.04 442.84 L423.35 445.16 L423.66 447.16 L423.97 449.41 L424.28 451.54 L424.59 453.13 L424.9 454.3 L425.21 455.27 L425.51 456.15 L425.82 457.06 L426.13 458.1 L426.44 459.12 L426.75 459.85 L427.06 460.3" fill="none" stroke="#0000FF" stroke-width="1.9" stroke-linejoin="round"/>
<path d="M430.42 460.3 L430.73 459.85 L431.04 459.12 L431.35 458.1 L431.66 457.06 L431.97 456.15 L432.28 455.27 L432.59 454.3 L432.9 453.13 L433.21 451.54 L433.52 449.41 L433.83 447.16 L434.14 445.16 L434.45 442.84 L434.63 440.85 L434.9 435.85 L435.17 428.82 L435.44 420.56 L435.71 412.67 L435.98 404.74 L436.25 399.91 L436.52 397.94 L436.79 399.91 L437.06 404.74 L437.33 412.67 L437.6 420.56 L437.87 428.82 L438.14 435.85 L438.41 440.85 L438.6 442.84 L438.9 445.16 L439.21 447.16 L439.52 449.41 L439.83 451.54 L440.14 453.13 L440.45 454.3 L440.76 455.27 L441.07 456.15 L441.38 457.06 L441.69 458.1 L442 459.12 L442.31 459.85 L442.62 460.3 Z" fill="url(#pg)" stroke="none"/>
<path d="M430.42 460.3 L430.73 459.85 L431.04 459.12 L431.35 458.1 L431.66 457.06 L431.97 456.15 L432.28 455.27 L432.59 454.3 L432.9 453.13 L433.21 451.54 L433.52 449.41 L433.83 447.16 L434.14 445.16 L434.45 442.84 L434.63 440.85 L434.9 435.85 L435.17 428.82 L435.44 420.56 L435.71 412.67 L435.98 404.74 L436.25 399.91 L436.52 397.94 L436.79 399.91 L437.06 404.74 L437.33 412.67 L437.6 420.56 L437.87 428.82 L438.14 435.85 L438.41 440.85 L438.6 442.84 L438.9 445.16 L439.21 447.16 L439.52 449.41 L439.83 451.54 L440.14 453.13 L440.45 454.3 L440.76 455.27 L441.07 456.15 L441.38 457.06 L441.69 458.1 L442 459.12 L442.31 459.85 L442.62 460.3" fill="none" stroke="#0000FF" stroke-width="1.9" stroke-linejoin="round"/>
<path d="M445.98 460.3 L446.29 459.85 L446.6 459.12 L446.91 458.1 L447.22 457.06 L447.53 456.15 L447.84 455.27 L448.15 454.3 L448.46 453.13 L448.77 451.54 L449.08 449.41 L449.39 447.16 L449.7 445.16 L450 442.84 L450.19 440.85 L450.46 435.85 L450.73 428.82 L451 420.56 L451.27 412.67 L451.54 404.74 L451.81 399.91 L452.08 397.94 L452.35 399.91 L452.62 404.74 L452.89 412.67 L453.16 420.56 L453.43 428.82 L453.7 435.85 L453.97 440.85 L454.15 442.84 L454.46 445.16 L454.77 447.16 L455.08 449.41 L455.39 451.54 L455.7 453.13 L456.01 454.3 L456.32 455.27 L456.63 456.15 L456.94 457.06 L457.25 458.1 L457.56 459.12 L457.87 459.85 L458.18 460.3 Z" fill="url(#pg)" stroke="none"/>
<path d="M445.98 460.3 L446.29 459.85 L446.6 459.12 L446.91 458.1 L447.22 457.06 L447.53 456.15 L447.84 455.27 L448.15 454.3 L448.46 453.13 L448.77 451.54 L449.08 449.41 L449.39 447.16 L449.7 445.16 L450 442.84 L450.19 440.85 L450.46 435.85 L450.73 428.82 L451 420.56 L451.27 412.67 L451.54 404.74 L451.81 399.91 L452.08 397.94 L452.35 399.91 L452.62 404.74 L452.89 412.67 L453.16 420.56 L453.43 428.82 L453.7 435.85 L453.97 440.85 L454.15 442.84 L454.46 445.16 L454.77 447.16 L455.08 449.41 L455.39 451.54 L455.7 453.13 L456.01 454.3 L456.32 455.27 L456.63 456.15 L456.94 457.06 L457.25 458.1 L457.56 459.12 L457.87 459.85 L458.18 460.3" fill="none" stroke="#0000FF" stroke-width="1.9" stroke-linejoin="round"/>
<path d="M461.54 460.3 L461.85 459.85 L462.16 459.12 L462.47 458.1 L462.78 457.06 L463.09 456.15 L463.39 455.27 L463.7 454.3 L464.01 453.13 L464.32 451.54 L464.63 449.41 L464.94 447.16 L465.25 445.16 L465.56 442.84 L465.75 440.85 L466.02 435.85 L466.29 428.82 L466.56 420.56 L466.83 412.67 L467.1 404.74 L467.37 399.91 L467.64 397.94 L467.91 399.91 L468.18 404.74 L468.45 412.67 L468.72 420.56 L468.99 428.82 L469.26 435.85 L469.53 440.85 L469.71 442.84 L470.02 445.16 L470.33 447.16 L470.64 449.41 L470.95 451.54 L471.26 453.13 L471.57 454.3 L471.88 455.27 L472.19 456.15 L472.5 457.06 L472.81 458.1 L473.12 459.12 L473.43 459.85 L473.74 460.3 Z" fill="url(#pg)" stroke="none"/>
<path d="M461.54 460.3 L461.85 459.85 L462.16 459.12 L462.47 458.1 L462.78 457.06 L463.09 456.15 L463.39 455.27 L463.7 454.3 L464.01 453.13 L464.32 451.54 L464.63 449.41 L464.94 447.16 L465.25 445.16 L465.56 442.84 L465.75 440.85 L466.02 435.85 L466.29 428.82 L466.56 420.56 L466.83 412.67 L467.1 404.74 L467.37 399.91 L467.64 397.94 L467.91 399.91 L468.18 404.74 L468.45 412.67 L468.72 420.56 L468.99 428.82 L469.26 435.85 L469.53 440.85 L469.71 442.84 L470.02 445.16 L470.33 447.16 L470.64 449.41 L470.95 451.54 L471.26 453.13 L471.57 454.3 L471.88 455.27 L472.19 456.15 L472.5 457.06 L472.81 458.1 L473.12 459.12 L473.43 459.85 L473.74 460.3" fill="none" stroke="#0000FF" stroke-width="1.9" stroke-linejoin="round"/>
<path d="M477.09 460.3 L477.4 459.85 L477.71 459.12 L478.02 458.1 L478.33 457.06 L478.64 456.15 L478.95 455.27 L479.26 454.3 L479.57 453.13 L479.88 451.54 L480.19 449.41 L480.5 447.16 L480.81 445.16 L481.12 442.84 L481.3 440.85 L481.57 435.85 L481.84 428.82 L482.11 420.56 L482.38 412.67 L482.65 404.74 L482.92 399.91 L483.19 397.94 L483.46 399.91 L483.74 404.74 L484.01 412.67 L484.28 420.56 L484.55 428.82 L484.82 435.85 L485.09 440.85 L485.27 442.84 L485.58 445.16 L485.89 447.16 L486.2 449.41 L486.51 451.54 L486.82 453.13 L487.13 454.3 L487.44 455.27 L487.75 456.15 L488.06 457.06 L488.37 458.1 L488.68 459.12 L488.99 459.85 L489.29 460.3 Z" fill="url(#pg)" stroke="none"/>
<path d="M477.09 460.3 L477.4 459.85 L477.71 459.12 L478.02 458.1 L478.33 457.06 L478.64 456.15 L478.95 455.27 L479.26 454.3 L479.57 453.13 L479.88 451.54 L480.19 449.41 L480.5 447.16 L480.81 445.16 L481.12 442.84 L481.3 440.85 L481.57 435.85 L481.84 428.82 L482.11 420.56 L482.38 412.67 L482.65 404.74 L482.92 399.91 L483.19 397.94 L483.46 399.91 L483.74 404.74 L484.01 412.67 L484.28 420.56 L484.55 428.82 L484.82 435.85 L485.09 440.85 L485.27 442.84 L485.58 445.16 L485.89 447.16 L486.2 449.41 L486.51 451.54 L486.82 453.13 L487.13 454.3 L487.44 455.27 L487.75 456.15 L488.06 457.06 L488.37 458.1 L488.68 459.12 L488.99 459.85 L489.29 460.3" fill="none" stroke="#0000FF" stroke-width="1.9" stroke-linejoin="round"/>
<path d="M492.65 460.3 L492.96 459.85 L493.27 459.12 L493.58 458.1 L493.89 457.06 L494.2 456.15 L494.51 455.27 L494.82 454.3 L495.13 453.13 L495.44 451.54 L495.75 449.41 L496.06 447.16 L496.37 445.16 L496.68 442.84 L496.86 440.85 L497.13 435.85 L497.4 428.82 L497.67 420.56 L497.94 412.67 L498.21 404.74 L498.48 399.91 L498.75 397.94 L499.02 399.91 L499.29 404.74 L499.56 412.67 L499.83 420.56 L500.1 428.82 L500.37 435.85 L500.64 440.85 L500.83 442.84 L501.14 445.16 L501.45 447.16 L501.76 449.41 L502.07 451.54 L502.38 453.13 L502.68 454.3 L502.99 455.27 L503.3 456.15 L503.61 457.06 L503.92 458.1 L504.23 459.12 L504.54 459.85 L504.85 460.3 Z" fill="url(#pg)" stroke="none"/>
<path d="M492.65 460.3 L492.96 459.85 L493.27 459.12 L493.58 458.1 L493.89 457.06 L494.2 456.15 L494.51 455.27 L494.82 454.3 L495.13 453.13 L495.44 451.54 L495.75 449.41 L496.06 447.16 L496.37 445.16 L496.68 442.84 L496.86 440.85 L497.13 435.85 L497.4 428.82 L497.67 420.56 L497.94 412.67 L498.21 404.74 L498.48 399.91 L498.75 397.94 L499.02 399.91 L499.29 404.74 L499.56 412.67 L499.83 420.56 L500.1 428.82 L500.37 435.85 L500.64 440.85 L500.83 442.84 L501.14 445.16 L501.45 447.16 L501.76 449.41 L502.07 451.54 L502.38 453.13 L502.68 454.3 L502.99 455.27 L503.3 456.15 L503.61 457.06 L503.92 458.1 L504.23 459.12 L504.54 459.85 L504.85 460.3" fill="none" stroke="#0000FF" stroke-width="1.9" stroke-linejoin="round"/>
<path d="M508.21 460.3 L508.52 459.85 L508.83 459.12 L509.14 458.1 L509.45 457.06 L509.76 456.15 L510.07 455.27 L510.38 454.3 L510.69 453.13 L511 451.54 L511.31 449.41 L511.62 447.16 L511.93 445.16 L512.24 442.84 L512.42 440.85 L512.69 435.85 L512.96 428.82 L513.23 420.56 L513.5 412.67 L513.77 404.74 L514.04 399.91 L514.31 397.94 L514.58 399.91 L514.85 404.74 L515.12 412.67 L515.39 420.56 L515.66 428.82 L515.93 435.85 L516.2 440.85 L516.38 442.84 L516.69 445.16 L517 447.16 L517.31 449.41 L517.62 451.54 L517.93 453.13 L518.24 454.3 L518.55 455.27 L518.86 456.15 L519.17 457.06 L519.48 458.1 L519.79 459.12 L520.1 459.85 L520.41 460.3 Z" fill="url(#pg)" stroke="none"/>
<path d="M508.21 460.3 L508.52 459.85 L508.83 459.12 L509.14 458.1 L509.45 457.06 L509.76 456.15 L510.07 455.27 L510.38 454.3 L510.69 453.13 L511 451.54 L511.31 449.41 L511.62 447.16 L511.93 445.16 L512.24 442.84 L512.42 440.85 L512.69 435.85 L512.96 428.82 L513.23 420.56 L513.5 412.67 L513.77 404.74 L514.04 399.91 L514.31 397.94 L514.58 399.91 L514.85 404.74 L515.12 412.67 L515.39 420.56 L515.66 428.82 L515.93 435.85 L516.2 440.85 L516.38 442.84 L516.69 445.16 L517 447.16 L517.31 449.41 L517.62 451.54 L517.93 453.13 L518.24 454.3 L518.55 455.27 L518.86 456.15 L519.17 457.06 L519.48 458.1 L519.79 459.12 L520.1 459.85 L520.41 460.3" fill="none" stroke="#0000FF" stroke-width="1.9" stroke-linejoin="round"/>
<path d="M523.77 460.3 L524.08 459.85 L524.39 459.12 L524.7 458.1 L525.01 457.06 L525.32 456.15 L525.63 455.27 L525.94 454.3 L526.25 453.13 L526.56 451.54 L526.87 449.41 L527.18 447.16 L527.48 445.16 L527.79 442.84 L527.98 440.85 L528.25 435.85 L528.52 428.82 L528.79 420.56 L529.06 412.67 L529.33 404.74 L529.6 399.91 L529.87 397.94 L530.14 399.91 L530.41 404.74 L530.68 412.67 L530.95 420.56 L531.22 428.82 L531.49 435.85 L531.76 440.85 L531.94 442.84 L532.25 445.16 L532.56 447.16 L532.87 449.41 L533.18 451.54 L533.49 453.13 L533.8 454.3 L534.11 455.27 L534.42 456.15 L534.73 457.06 L535.04 458.1 L535.35 459.12 L535.66 459.85 L535.97 460.3 Z" fill="url(#pg)" stroke="none"/>
<path d="M523.77 460.3 L524.08 459.85 L524.39 459.12 L524.7 458.1 L525.01 457.06 L525.32 456.15 L525.63 455.27 L525.94 454.3 L526.25 453.13 L526.56 451.54 L526.87 449.41 L527.18 447.16 L527.48 445.16 L527.79 442.84 L527.98 440.85 L528.25 435.85 L528.52 428.82 L528.79 420.56 L529.06 412.67 L529.33 404.74 L529.6 399.91 L529.87 397.94 L530.14 399.91 L530.41 404.74 L530.68 412.67 L530.95 420.56 L531.22 428.82 L531.49 435.85 L531.76 440.85 L531.94 442.84 L532.25 445.16 L532.56 447.16 L532.87 449.41 L533.18 451.54 L533.49 453.13 L533.8 454.3 L534.11 455.27 L534.42 456.15 L534.73 457.06 L535.04 458.1 L535.35 459.12 L535.66 459.85 L535.97 460.3" fill="none" stroke="#0000FF" stroke-width="1.9" stroke-linejoin="round"/>
<path d="M539.33 460.3 L539.64 459.85 L539.95 459.12 L540.26 458.1 L540.57 457.06 L540.87 456.15 L541.18 455.27 L541.49 454.3 L541.8 453.13 L542.11 451.54 L542.42 449.41 L542.73 447.16 L543.04 445.16 L543.35 442.84 L543.54 440.85 L543.81 435.85 L544.08 428.82 L544.35 420.56 L544.62 412.67 L544.89 404.74 L545.16 399.91 L545.43 397.94 L545.7 399.91 L545.97 404.74 L546.24 412.67 L546.51 420.56 L546.78 428.82 L547.05 435.85 L547.32 440.85 L547.5 442.84 L547.81 445.16 L548.12 447.16 L548.43 449.41 L548.74 451.54 L549.05 453.13 L549.36 454.3 L549.67 455.27 L549.98 456.15 L550.29 457.06 L550.6 458.1 L550.91 459.12 L551.22 459.85 L551.53 460.3 Z" fill="url(#pg)" stroke="none"/>
<path d="M539.33 460.3 L539.64 459.85 L539.95 459.12 L540.26 458.1 L540.57 457.06 L540.87 456.15 L541.18 455.27 L541.49 454.3 L541.8 453.13 L542.11 451.54 L542.42 449.41 L542.73 447.16 L543.04 445.16 L543.35 442.84 L543.54 440.85 L543.81 435.85 L544.08 428.82 L544.35 420.56 L544.62 412.67 L544.89 404.74 L545.16 399.91 L545.43 397.94 L545.7 399.91 L545.97 404.74 L546.24 412.67 L546.51 420.56 L546.78 428.82 L547.05 435.85 L547.32 440.85 L547.5 442.84 L547.81 445.16 L548.12 447.16 L548.43 449.41 L548.74 451.54 L549.05 453.13 L549.36 454.3 L549.67 455.27 L549.98 456.15 L550.29 457.06 L550.6 458.1 L550.91 459.12 L551.22 459.85 L551.53 460.3" fill="none" stroke="#0000FF" stroke-width="1.9" stroke-linejoin="round"/>
<path d="M554.88 460.3 L555.19 459.85 L555.5 459.12 L555.81 458.1 L556.12 457.06 L556.43 456.15 L556.74 455.27 L557.05 454.3 L557.36 453.13 L557.67 451.54 L557.98 449.41 L558.29 447.16 L558.6 445.16 L558.91 442.84 L559.09 440.85 L559.36 435.85 L559.63 428.82 L559.9 420.56 L560.17 412.67 L560.44 404.74 L560.71 399.91 L560.98 397.94 L561.25 399.91 L561.52 404.74 L561.79 412.67 L562.06 420.56 L562.33 428.82 L562.61 435.85 L562.88 440.85 L563.06 442.84 L563.37 445.16 L563.68 447.16 L563.99 449.41 L564.3 451.54 L564.61 453.13 L564.92 454.3 L565.23 455.27 L565.54 456.15 L565.85 457.06 L566.16 458.1 L566.46 459.12 L566.77 459.85 L567.08 460.3 Z" fill="url(#pg)" stroke="none"/>
<path d="M554.88 460.3 L555.19 459.85 L555.5 459.12 L555.81 458.1 L556.12 457.06 L556.43 456.15 L556.74 455.27 L557.05 454.3 L557.36 453.13 L557.67 451.54 L557.98 449.41 L558.29 447.16 L558.6 445.16 L558.91 442.84 L559.09 440.85 L559.36 435.85 L559.63 428.82 L559.9 420.56 L560.17 412.67 L560.44 404.74 L560.71 399.91 L560.98 397.94 L561.25 399.91 L561.52 404.74 L561.79 412.67 L562.06 420.56 L562.33 428.82 L562.61 435.85 L562.88 440.85 L563.06 442.84 L563.37 445.16 L563.68 447.16 L563.99 449.41 L564.3 451.54 L564.61 453.13 L564.92 454.3 L565.23 455.27 L565.54 456.15 L565.85 457.06 L566.16 458.1 L566.46 459.12 L566.77 459.85 L567.08 460.3" fill="none" stroke="#0000FF" stroke-width="1.9" stroke-linejoin="round"/>
<path d="M570.44 460.3 L570.75 459.85 L571.06 459.12 L571.37 458.1 L571.68 457.06 L571.99 456.15 L572.3 455.27 L572.61 454.3 L572.92 453.13 L573.23 451.54 L573.54 449.41 L573.85 447.16 L574.16 445.16 L574.47 442.84 L574.65 440.85 L574.92 435.85 L575.19 428.82 L575.46 420.56 L575.73 412.67 L576 404.74 L576.27 399.91 L576.54 397.94 L576.81 399.91 L577.08 404.74 L577.35 412.67 L577.62 420.56 L577.89 428.82 L578.16 435.85 L578.43 440.85 L578.62 442.84 L578.93 445.16 L579.24 447.16 L579.55 449.41 L579.85 451.54 L580.16 453.13 L580.47 454.3 L580.78 455.27 L581.09 456.15 L581.4 457.06 L581.71 458.1 L582.02 459.12 L582.33 459.85 L582.64 460.3 Z" fill="url(#pg)" stroke="none"/>
<path d="M570.44 460.3 L570.75 459.85 L571.06 459.12 L571.37 458.1 L571.68 457.06 L571.99 456.15 L572.3 455.27 L572.61 454.3 L572.92 453.13 L573.23 451.54 L573.54 449.41 L573.85 447.16 L574.16 445.16 L574.47 442.84 L574.65 440.85 L574.92 435.85 L575.19 428.82 L575.46 420.56 L575.73 412.67 L576 404.74 L576.27 399.91 L576.54 397.94 L576.81 399.91 L577.08 404.74 L577.35 412.67 L577.62 420.56 L577.89 428.82 L578.16 435.85 L578.43 440.85 L578.62 442.84 L578.93 445.16 L579.24 447.16 L579.55 449.41 L579.85 451.54 L580.16 453.13 L580.47 454.3 L580.78 455.27 L581.09 456.15 L581.4 457.06 L581.71 458.1 L582.02 459.12 L582.33 459.85 L582.64 460.3" fill="none" stroke="#0000FF" stroke-width="1.9" stroke-linejoin="round"/>
<path d="M586 460.3 L586.31 459.85 L586.62 459.12 L586.93 458.1 L587.24 457.06 L587.55 456.15 L587.86 455.27 L588.17 454.3 L588.48 453.13 L588.79 451.54 L589.1 449.41 L589.41 447.16 L589.72 445.16 L590.03 442.84 L590.21 440.85 L590.48 435.85 L590.75 428.82 L591.02 420.56 L591.29 412.67 L591.56 404.74 L591.83 399.91 L592.1 397.94 L592.37 399.91 L592.64 404.74 L592.91 412.67 L593.18 420.56 L593.45 428.82 L593.72 435.85 L593.99 440.85 L594.17 442.84 L594.48 445.16 L594.79 447.16 L595.1 449.41 L595.41 451.54 L595.72 453.13 L596.03 454.3 L596.34 455.27 L596.65 456.15 L596.96 457.06 L597.27 458.1 L597.58 459.12 L597.89 459.85 L598.2 460.3 Z" fill="url(#pg)" stroke="none"/>
<path d="M586 460.3 L586.31 459.85 L586.62 459.12 L586.93 458.1 L587.24 457.06 L587.55 456.15 L587.86 455.27 L588.17 454.3 L588.48 453.13 L588.79 451.54 L589.1 449.41 L589.41 447.16 L589.72 445.16 L590.03 442.84 L590.21 440.85 L590.48 435.85 L590.75 428.82 L591.02 420.56 L591.29 412.67 L591.56 404.74 L591.83 399.91 L592.1 397.94 L592.37 399.91 L592.64 404.74 L592.91 412.67 L593.18 420.56 L593.45 428.82 L593.72 435.85 L593.99 440.85 L594.17 442.84 L594.48 445.16 L594.79 447.16 L595.1 449.41 L595.41 451.54 L595.72 453.13 L596.03 454.3 L596.34 455.27 L596.65 456.15 L596.96 457.06 L597.27 458.1 L597.58 459.12 L597.89 459.85 L598.2 460.3" fill="none" stroke="#0000FF" stroke-width="1.9" stroke-linejoin="round"/>
<path d="M262.8 380.2 L262.8 461.3 L646.2 461.3" fill="none" stroke="#000" stroke-width="1.9" stroke-linejoin="miter"/>
<path d="M262.8 376.2 l-2.9 5.7 h5.8 Z" fill="#000"/>
<path d="M650.2 461.3 l-5.7 -2.9 v5.8 Z" fill="#000"/>
<text x="253.9" y="438" transform="rotate(-90 253.9 438)">Intensity</text>
<text x="270.7" y="407.5"><tspan font-weight="bold" font-style="italic" font-size="10.5">g</tspan><tspan font-weight="bold" font-size="8.2" dy="2.4">0</tspan></text>
<path d="M280.6 410.2 L283.78 414.74" stroke="#000" stroke-width="1.5" fill="none"/>
<path d="M285.5 417.2 L281.69 415.59 L285.3 413.07 Z" fill="#000"/>
<text x="272.38" y="434.94" font-size="13.8" font-weight="bold">...</text>
<text x="626.18" y="434.94" font-size="13.8" font-weight="bold">...</text>
<text x="629.3" y="479">Time</text>
<rect x="666.6" y="172" width="3.6" height="303" fill="url(#pump)"/>
<path d="M663 473.2 H673.9 L668.4 484 Z" fill="#7a3cbc"/>
<text x="683.1" y="381" transform="rotate(-90 683.1 381)">Increasing pump power</text>
</svg>
</body></html>
